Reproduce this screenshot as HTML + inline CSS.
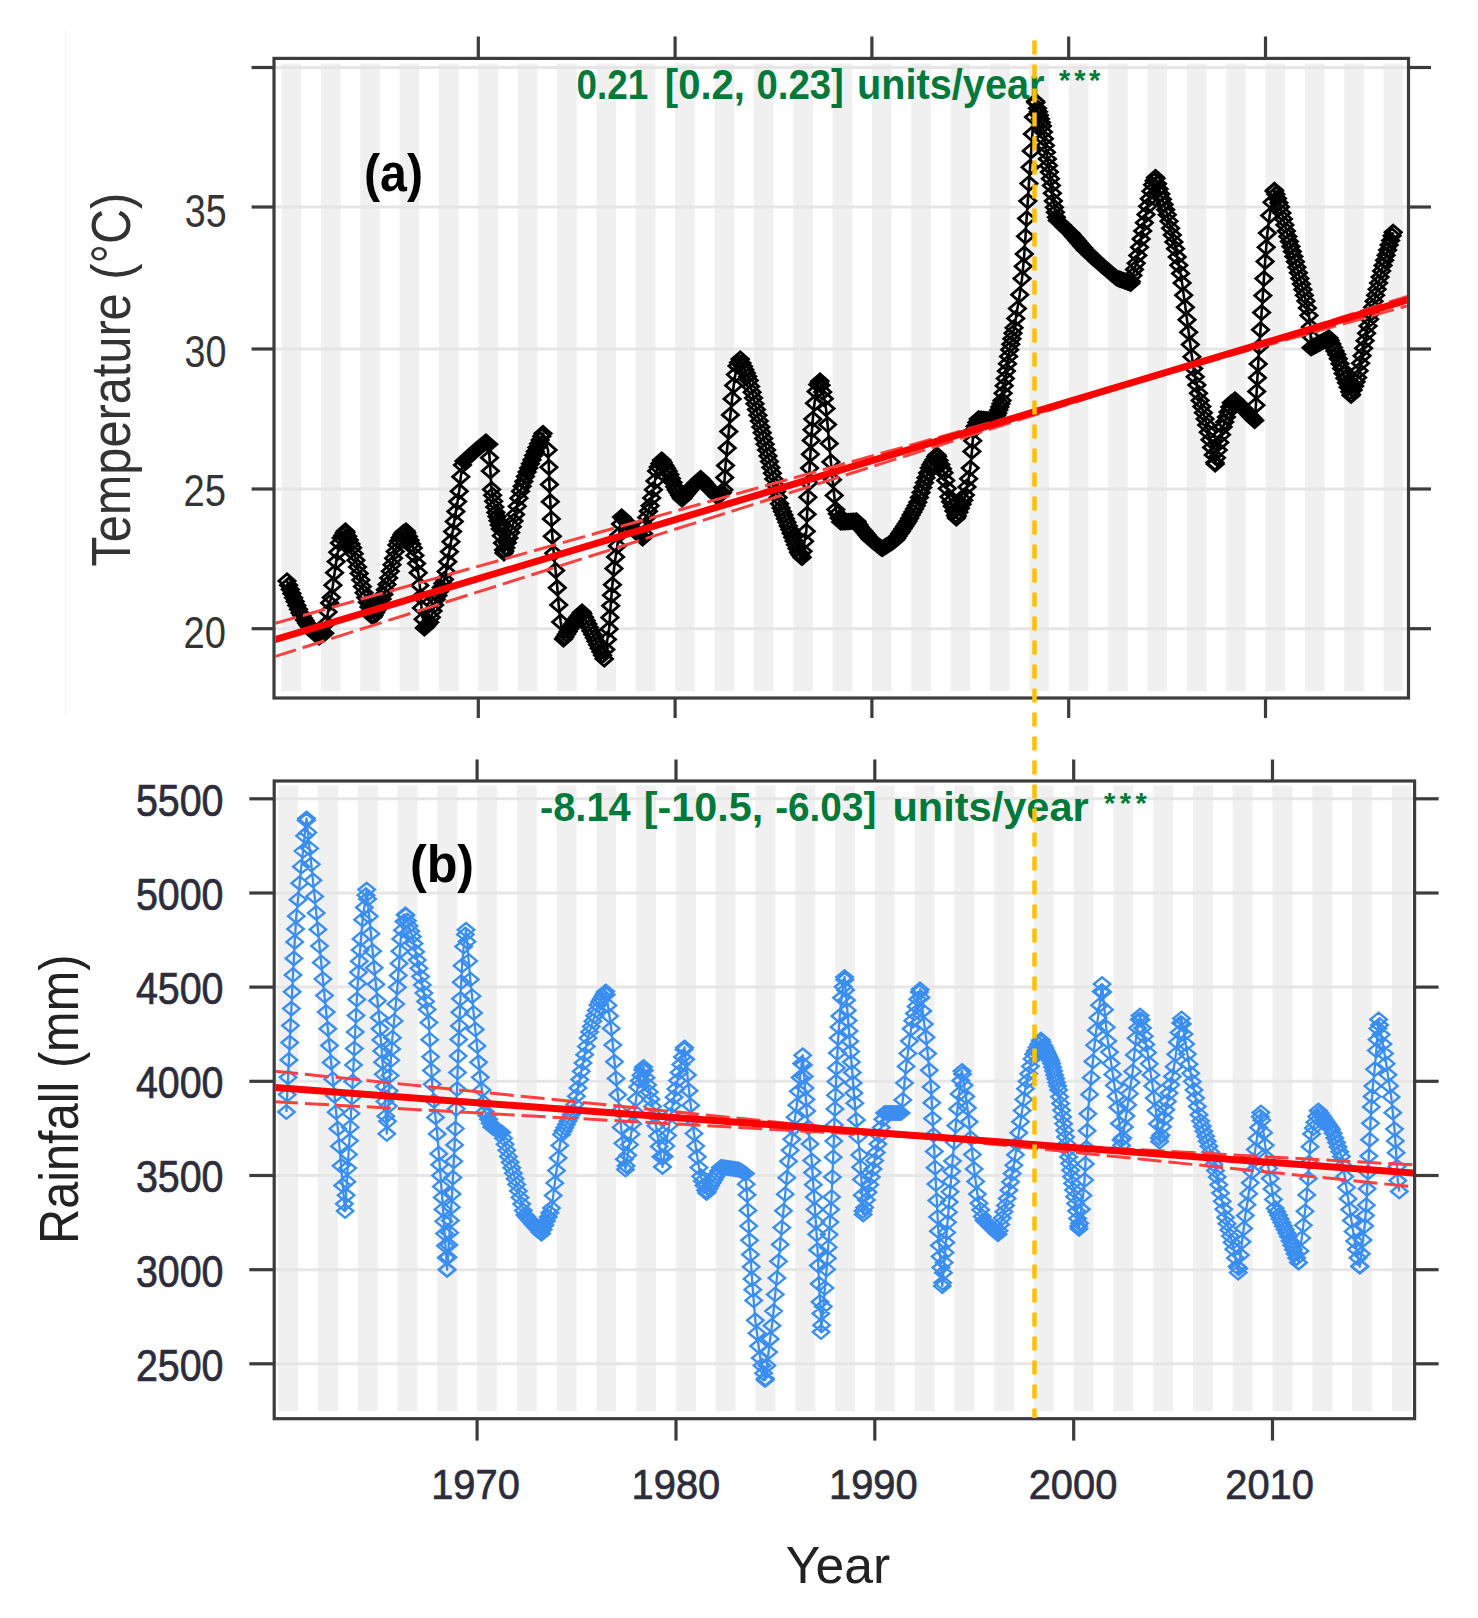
<!DOCTYPE html><html><head><meta charset="utf-8"><style>html,body{margin:0;padding:0;background:#fff;}svg{display:block}text{font-family:"Liberation Sans",sans-serif}</style></head><body><svg width="1478" height="1618" viewBox="0 0 1478 1618"><rect width="1478" height="1618" fill="#ffffff"/><line x1="65.5" y1="30" x2="65.5" y2="715" stroke="#f6f6f6" stroke-width="1.5"/><defs><clipPath id="ct"><rect x="275.6" y="60" width="1131.3" height="636.4"/></clipPath><clipPath id="cb"><rect x="275.8" y="782.6" width="1137.2" height="634.5"/></clipPath></defs><rect x="274" y="58.4" width="1134.5" height="639.6" fill="#ffffff"/><rect x="281.5" y="63.5" width="19.7" height="627.5" fill="#f0f0f0"/><rect x="320.9" y="63.5" width="19.7" height="627.5" fill="#f0f0f0"/><rect x="360.2" y="63.5" width="19.7" height="627.5" fill="#f0f0f0"/><rect x="399.6" y="63.5" width="19.7" height="627.5" fill="#f0f0f0"/><rect x="438.9" y="63.5" width="19.7" height="627.5" fill="#f0f0f0"/><rect x="478.3" y="63.5" width="19.7" height="627.5" fill="#f0f0f0"/><rect x="517.7" y="63.5" width="19.7" height="627.5" fill="#f0f0f0"/><rect x="557" y="63.5" width="19.7" height="627.5" fill="#f0f0f0"/><rect x="596.4" y="63.5" width="19.7" height="627.5" fill="#f0f0f0"/><rect x="635.7" y="63.5" width="19.7" height="627.5" fill="#f0f0f0"/><rect x="675.1" y="63.5" width="19.7" height="627.5" fill="#f0f0f0"/><rect x="714.5" y="63.5" width="19.7" height="627.5" fill="#f0f0f0"/><rect x="753.8" y="63.5" width="19.7" height="627.5" fill="#f0f0f0"/><rect x="793.2" y="63.5" width="19.7" height="627.5" fill="#f0f0f0"/><rect x="832.5" y="63.5" width="19.7" height="627.5" fill="#f0f0f0"/><rect x="871.9" y="63.5" width="19.7" height="627.5" fill="#f0f0f0"/><rect x="911.3" y="63.5" width="19.7" height="627.5" fill="#f0f0f0"/><rect x="950.6" y="63.5" width="19.7" height="627.5" fill="#f0f0f0"/><rect x="990" y="63.5" width="19.7" height="627.5" fill="#f0f0f0"/><rect x="1029.3" y="63.5" width="19.7" height="627.5" fill="#f0f0f0"/><rect x="1068.7" y="63.5" width="19.7" height="627.5" fill="#f0f0f0"/><rect x="1108.1" y="63.5" width="19.7" height="627.5" fill="#f0f0f0"/><rect x="1147.4" y="63.5" width="19.7" height="627.5" fill="#f0f0f0"/><rect x="1186.8" y="63.5" width="19.7" height="627.5" fill="#f0f0f0"/><rect x="1226.1" y="63.5" width="19.7" height="627.5" fill="#f0f0f0"/><rect x="1265.5" y="63.5" width="19.7" height="627.5" fill="#f0f0f0"/><rect x="1304.9" y="63.5" width="19.7" height="627.5" fill="#f0f0f0"/><rect x="1344.2" y="63.5" width="19.7" height="627.5" fill="#f0f0f0"/><rect x="1383.6" y="63.5" width="19.7" height="627.5" fill="#f0f0f0"/><line x1="274" y1="67.5" x2="1408.5" y2="67.5" stroke="#e6e6e6" stroke-width="3"/><line x1="274" y1="207" x2="1408.5" y2="207" stroke="#e6e6e6" stroke-width="3"/><line x1="274" y1="349" x2="1408.5" y2="349" stroke="#e6e6e6" stroke-width="3"/><line x1="274" y1="489" x2="1408.5" y2="489" stroke="#e6e6e6" stroke-width="3"/><line x1="274" y1="628.7" x2="1408.5" y2="628.7" stroke="#e6e6e6" stroke-width="3"/><rect x="274.2" y="781" width="1140.4" height="637.7" fill="#ffffff"/><rect x="278.2" y="785.5" width="19.9" height="625.5" fill="#f0f0f0"/><rect x="318" y="785.5" width="19.9" height="625.5" fill="#f0f0f0"/><rect x="357.8" y="785.5" width="19.9" height="625.5" fill="#f0f0f0"/><rect x="397.6" y="785.5" width="19.9" height="625.5" fill="#f0f0f0"/><rect x="437.3" y="785.5" width="19.9" height="625.5" fill="#f0f0f0"/><rect x="477.1" y="785.5" width="19.9" height="625.5" fill="#f0f0f0"/><rect x="516.9" y="785.5" width="19.9" height="625.5" fill="#f0f0f0"/><rect x="556.6" y="785.5" width="19.9" height="625.5" fill="#f0f0f0"/><rect x="596.4" y="785.5" width="19.9" height="625.5" fill="#f0f0f0"/><rect x="636.2" y="785.5" width="19.9" height="625.5" fill="#f0f0f0"/><rect x="676" y="785.5" width="19.9" height="625.5" fill="#f0f0f0"/><rect x="715.7" y="785.5" width="19.9" height="625.5" fill="#f0f0f0"/><rect x="755.5" y="785.5" width="19.9" height="625.5" fill="#f0f0f0"/><rect x="795.3" y="785.5" width="19.9" height="625.5" fill="#f0f0f0"/><rect x="835" y="785.5" width="19.9" height="625.5" fill="#f0f0f0"/><rect x="874.8" y="785.5" width="19.9" height="625.5" fill="#f0f0f0"/><rect x="914.6" y="785.5" width="19.9" height="625.5" fill="#f0f0f0"/><rect x="954.3" y="785.5" width="19.9" height="625.5" fill="#f0f0f0"/><rect x="994.1" y="785.5" width="19.9" height="625.5" fill="#f0f0f0"/><rect x="1033.9" y="785.5" width="19.9" height="625.5" fill="#f0f0f0"/><rect x="1073.7" y="785.5" width="19.9" height="625.5" fill="#f0f0f0"/><rect x="1113.4" y="785.5" width="19.9" height="625.5" fill="#f0f0f0"/><rect x="1153.2" y="785.5" width="19.9" height="625.5" fill="#f0f0f0"/><rect x="1193" y="785.5" width="19.9" height="625.5" fill="#f0f0f0"/><rect x="1232.7" y="785.5" width="19.9" height="625.5" fill="#f0f0f0"/><rect x="1272.5" y="785.5" width="19.9" height="625.5" fill="#f0f0f0"/><rect x="1312.3" y="785.5" width="19.9" height="625.5" fill="#f0f0f0"/><rect x="1352" y="785.5" width="19.9" height="625.5" fill="#f0f0f0"/><rect x="1391.8" y="785.5" width="19.9" height="625.5" fill="#f0f0f0"/><line x1="274.2" y1="798.8" x2="1414.6" y2="798.8" stroke="#e6e6e6" stroke-width="3"/><line x1="274.2" y1="893" x2="1414.6" y2="893" stroke="#e6e6e6" stroke-width="3"/><line x1="274.2" y1="987.1" x2="1414.6" y2="987.1" stroke="#e6e6e6" stroke-width="3"/><line x1="274.2" y1="1081.3" x2="1414.6" y2="1081.3" stroke="#e6e6e6" stroke-width="3"/><line x1="274.2" y1="1175.5" x2="1414.6" y2="1175.5" stroke="#e6e6e6" stroke-width="3"/><line x1="274.2" y1="1269.7" x2="1414.6" y2="1269.7" stroke="#e6e6e6" stroke-width="3"/><line x1="274.2" y1="1363.8" x2="1414.6" y2="1363.8" stroke="#e6e6e6" stroke-width="3"/><g clip-path="url(#ct)"><path d="M287.0 573.9l8.1 7.1l-8.1 7.1l-8.1 -7.1zM287.0 573.9l8.1 7.1l-8.1 7.1l-8.1 -7.1zM288.6 578.1l8.1 7.1l-8.1 7.1l-8.1 -7.1zM290.3 582.3l8.1 7.1l-8.1 7.1l-8.1 -7.1zM291.9 586.5l8.1 7.1l-8.1 7.1l-8.1 -7.1zM293.6 590.7l8.1 7.1l-8.1 7.1l-8.1 -7.1zM295.2 594.5l8.1 7.1l-8.1 7.1l-8.1 -7.1zM296.8 598.3l8.1 7.1l-8.1 7.1l-8.1 -7.1zM298.5 602.2l8.1 7.1l-8.1 7.1l-8.1 -7.1zM300.1 605.8l8.1 7.1l-8.1 7.1l-8.1 -7.1zM301.8 608.4l8.1 7.1l-8.1 7.1l-8.1 -7.1zM303.4 611.0l8.1 7.1l-8.1 7.1l-8.1 -7.1zM305.0 613.5l8.1 7.1l-8.1 7.1l-8.1 -7.1zM306.7 616.1l8.1 7.1l-8.1 7.1l-8.1 -7.1zM308.3 618.4l8.1 7.1l-8.1 7.1l-8.1 -7.1zM310.0 620.5l8.1 7.1l-8.1 7.1l-8.1 -7.1zM311.6 622.6l8.1 7.1l-8.1 7.1l-8.1 -7.1zM313.2 624.7l8.1 7.1l-8.1 7.1l-8.1 -7.1zM314.9 626.7l8.1 7.1l-8.1 7.1l-8.1 -7.1zM316.5 628.0l8.1 7.1l-8.1 7.1l-8.1 -7.1zM318.2 629.3l8.1 7.1l-8.1 7.1l-8.1 -7.1zM319.0 629.9l8.1 7.1l-8.1 7.1l-8.1 -7.1zM319.8 629.4l8.1 7.1l-8.1 7.1l-8.1 -7.1zM321.4 628.3l8.1 7.1l-8.1 7.1l-8.1 -7.1zM323.1 627.2l8.1 7.1l-8.1 7.1l-8.1 -7.1zM324.7 626.1l8.1 7.1l-8.1 7.1l-8.1 -7.1zM326.4 616.4l8.1 7.1l-8.1 7.1l-8.1 -7.1zM328.0 604.9l8.1 7.1l-8.1 7.1l-8.1 -7.1zM329.6 595.8l8.1 7.1l-8.1 7.1l-8.1 -7.1zM331.3 590.4l8.1 7.1l-8.1 7.1l-8.1 -7.1zM332.9 578.1l8.1 7.1l-8.1 7.1l-8.1 -7.1zM334.6 565.7l8.1 7.1l-8.1 7.1l-8.1 -7.1zM336.2 554.5l8.1 7.1l-8.1 7.1l-8.1 -7.1zM337.8 545.2l8.1 7.1l-8.1 7.1l-8.1 -7.1zM339.5 535.9l8.1 7.1l-8.1 7.1l-8.1 -7.1zM341.1 531.0l8.1 7.1l-8.1 7.1l-8.1 -7.1zM342.8 528.3l8.1 7.1l-8.1 7.1l-8.1 -7.1zM344.4 525.6l8.1 7.1l-8.1 7.1l-8.1 -7.1zM345.4 523.9l8.1 7.1l-8.1 7.1l-8.1 -7.1zM346.0 525.4l8.1 7.1l-8.1 7.1l-8.1 -7.1zM347.7 529.2l8.1 7.1l-8.1 7.1l-8.1 -7.1zM349.3 533.0l8.1 7.1l-8.1 7.1l-8.1 -7.1zM351.0 536.8l8.1 7.1l-8.1 7.1l-8.1 -7.1zM352.6 540.7l8.1 7.1l-8.1 7.1l-8.1 -7.1zM354.2 546.6l8.1 7.1l-8.1 7.1l-8.1 -7.1zM355.9 553.2l8.1 7.1l-8.1 7.1l-8.1 -7.1zM357.5 559.8l8.1 7.1l-8.1 7.1l-8.1 -7.1zM359.2 566.3l8.1 7.1l-8.1 7.1l-8.1 -7.1zM360.8 572.9l8.1 7.1l-8.1 7.1l-8.1 -7.1zM362.4 579.5l8.1 7.1l-8.1 7.1l-8.1 -7.1zM364.1 585.7l8.1 7.1l-8.1 7.1l-8.1 -7.1zM365.7 590.4l8.1 7.1l-8.1 7.1l-8.1 -7.1zM367.4 595.2l8.1 7.1l-8.1 7.1l-8.1 -7.1zM369.0 599.9l8.1 7.1l-8.1 7.1l-8.1 -7.1zM370.6 604.0l8.1 7.1l-8.1 7.1l-8.1 -7.1zM372.3 608.1l8.1 7.1l-8.1 7.1l-8.1 -7.1zM373.0 609.9l8.1 7.1l-8.1 7.1l-8.1 -7.1zM373.9 608.3l8.1 7.1l-8.1 7.1l-8.1 -7.1zM375.6 605.5l8.1 7.1l-8.1 7.1l-8.1 -7.1zM377.2 602.7l8.1 7.1l-8.1 7.1l-8.1 -7.1zM378.8 599.9l8.1 7.1l-8.1 7.1l-8.1 -7.1zM380.5 596.5l8.1 7.1l-8.1 7.1l-8.1 -7.1zM382.1 591.9l8.1 7.1l-8.1 7.1l-8.1 -7.1zM383.8 587.3l8.1 7.1l-8.1 7.1l-8.1 -7.1zM385.4 582.6l8.1 7.1l-8.1 7.1l-8.1 -7.1zM387.0 577.3l8.1 7.1l-8.1 7.1l-8.1 -7.1zM388.7 570.8l8.1 7.1l-8.1 7.1l-8.1 -7.1zM390.3 564.2l8.1 7.1l-8.1 7.1l-8.1 -7.1zM392.0 557.7l8.1 7.1l-8.1 7.1l-8.1 -7.1zM393.6 551.1l8.1 7.1l-8.1 7.1l-8.1 -7.1zM395.2 544.5l8.1 7.1l-8.1 7.1l-8.1 -7.1zM396.9 537.9l8.1 7.1l-8.1 7.1l-8.1 -7.1zM398.5 533.9l8.1 7.1l-8.1 7.1l-8.1 -7.1zM400.2 530.7l8.1 7.1l-8.1 7.1l-8.1 -7.1zM401.8 527.6l8.1 7.1l-8.1 7.1l-8.1 -7.1zM403.4 525.5l8.1 7.1l-8.1 7.1l-8.1 -7.1zM405.1 524.5l8.1 7.1l-8.1 7.1l-8.1 -7.1zM406.0 523.9l8.1 7.1l-8.1 7.1l-8.1 -7.1zM406.7 525.6l8.1 7.1l-8.1 7.1l-8.1 -7.1zM408.4 529.4l8.1 7.1l-8.1 7.1l-8.1 -7.1zM410.0 533.2l8.1 7.1l-8.1 7.1l-8.1 -7.1zM411.6 537.0l8.1 7.1l-8.1 7.1l-8.1 -7.1zM413.3 540.9l8.1 7.1l-8.1 7.1l-8.1 -7.1zM414.9 548.3l8.1 7.1l-8.1 7.1l-8.1 -7.1zM416.6 556.5l8.1 7.1l-8.1 7.1l-8.1 -7.1zM418.2 565.6l8.1 7.1l-8.1 7.1l-8.1 -7.1zM419.8 578.3l8.1 7.1l-8.1 7.1l-8.1 -7.1zM420.7 589.6l8.1 7.1l-8.1 7.1l-8.1 -7.1zM421.5 600.9l8.1 7.1l-8.1 7.1l-8.1 -7.1zM423.1 612.2l8.1 7.1l-8.1 7.1l-8.1 -7.1zM424.4 620.9l8.1 7.1l-8.1 7.1l-8.1 -7.1zM424.8 620.5l8.1 7.1l-8.1 7.1l-8.1 -7.1zM426.4 618.8l8.1 7.1l-8.1 7.1l-8.1 -7.1zM428.0 617.0l8.1 7.1l-8.1 7.1l-8.1 -7.1zM429.7 615.2l8.1 7.1l-8.1 7.1l-8.1 -7.1zM431.3 610.1l8.1 7.1l-8.1 7.1l-8.1 -7.1zM433.0 604.0l8.1 7.1l-8.1 7.1l-8.1 -7.1zM434.6 598.0l8.1 7.1l-8.1 7.1l-8.1 -7.1zM436.2 592.3l8.1 7.1l-8.1 7.1l-8.1 -7.1zM437.9 588.3l8.1 7.1l-8.1 7.1l-8.1 -7.1zM439.5 584.3l8.1 7.1l-8.1 7.1l-8.1 -7.1zM441.2 580.3l8.1 7.1l-8.1 7.1l-8.1 -7.1zM442.8 576.3l8.1 7.1l-8.1 7.1l-8.1 -7.1zM444.4 572.3l8.1 7.1l-8.1 7.1l-8.1 -7.1zM446.1 564.4l8.1 7.1l-8.1 7.1l-8.1 -7.1zM447.7 554.6l8.1 7.1l-8.1 7.1l-8.1 -7.1zM449.4 544.7l8.1 7.1l-8.1 7.1l-8.1 -7.1zM451.0 534.7l8.1 7.1l-8.1 7.1l-8.1 -7.1zM452.6 524.5l8.1 7.1l-8.1 7.1l-8.1 -7.1zM454.3 514.4l8.1 7.1l-8.1 7.1l-8.1 -7.1zM455.9 504.4l8.1 7.1l-8.1 7.1l-8.1 -7.1zM457.6 494.5l8.1 7.1l-8.1 7.1l-8.1 -7.1zM459.2 484.1l8.1 7.1l-8.1 7.1l-8.1 -7.1zM460.8 469.7l8.1 7.1l-8.1 7.1l-8.1 -7.1zM462.5 458.0l8.1 7.1l-8.1 7.1l-8.1 -7.1zM464.1 453.9l8.1 7.1l-8.1 7.1l-8.1 -7.1zM465.8 452.4l8.1 7.1l-8.1 7.1l-8.1 -7.1zM467.4 450.9l8.1 7.1l-8.1 7.1l-8.1 -7.1zM469.0 449.4l8.1 7.1l-8.1 7.1l-8.1 -7.1zM470.7 447.9l8.1 7.1l-8.1 7.1l-8.1 -7.1zM472.3 446.4l8.1 7.1l-8.1 7.1l-8.1 -7.1zM474.0 444.9l8.1 7.1l-8.1 7.1l-8.1 -7.1zM475.6 443.4l8.1 7.1l-8.1 7.1l-8.1 -7.1zM477.2 442.1l8.1 7.1l-8.1 7.1l-8.1 -7.1zM478.9 440.7l8.1 7.1l-8.1 7.1l-8.1 -7.1zM480.5 439.4l8.1 7.1l-8.1 7.1l-8.1 -7.1zM482.2 438.0l8.1 7.1l-8.1 7.1l-8.1 -7.1zM483.8 436.7l8.1 7.1l-8.1 7.1l-8.1 -7.1zM485.4 435.4l8.1 7.1l-8.1 7.1l-8.1 -7.1zM486.0 434.9l8.1 7.1l-8.1 7.1l-8.1 -7.1zM487.1 435.8l8.1 7.1l-8.1 7.1l-8.1 -7.1zM488.7 437.2l8.1 7.1l-8.1 7.1l-8.1 -7.1zM489.5 450.6l8.1 7.1l-8.1 7.1l-8.1 -7.1zM490.4 463.9l8.1 7.1l-8.1 7.1l-8.1 -7.1zM491.5 482.4l8.1 7.1l-8.1 7.1l-8.1 -7.1zM492.6 488.2l8.1 7.1l-8.1 7.1l-8.1 -7.1zM493.7 494.1l8.1 7.1l-8.1 7.1l-8.1 -7.1zM494.8 500.0l8.1 7.1l-8.1 7.1l-8.1 -7.1zM495.9 505.3l8.1 7.1l-8.1 7.1l-8.1 -7.1zM497.0 509.4l8.1 7.1l-8.1 7.1l-8.1 -7.1zM498.1 513.6l8.1 7.1l-8.1 7.1l-8.1 -7.1zM499.2 517.8l8.1 7.1l-8.1 7.1l-8.1 -7.1zM500.3 522.0l8.1 7.1l-8.1 7.1l-8.1 -7.1zM501.4 528.7l8.1 7.1l-8.1 7.1l-8.1 -7.1zM502.5 535.9l8.1 7.1l-8.1 7.1l-8.1 -7.1zM503.6 543.0l8.1 7.1l-8.1 7.1l-8.1 -7.1zM504.0 545.9l8.1 7.1l-8.1 7.1l-8.1 -7.1zM504.7 543.9l8.1 7.1l-8.1 7.1l-8.1 -7.1zM505.8 540.6l8.1 7.1l-8.1 7.1l-8.1 -7.1zM507.4 535.7l8.1 7.1l-8.1 7.1l-8.1 -7.1zM509.0 530.8l8.1 7.1l-8.1 7.1l-8.1 -7.1zM510.7 525.5l8.1 7.1l-8.1 7.1l-8.1 -7.1zM512.3 519.7l8.1 7.1l-8.1 7.1l-8.1 -7.1zM514.0 514.0l8.1 7.1l-8.1 7.1l-8.1 -7.1zM515.6 507.3l8.1 7.1l-8.1 7.1l-8.1 -7.1zM517.2 499.2l8.1 7.1l-8.1 7.1l-8.1 -7.1zM518.9 491.1l8.1 7.1l-8.1 7.1l-8.1 -7.1zM520.5 484.1l8.1 7.1l-8.1 7.1l-8.1 -7.1zM522.2 479.2l8.1 7.1l-8.1 7.1l-8.1 -7.1zM523.8 474.3l8.1 7.1l-8.1 7.1l-8.1 -7.1zM525.4 469.4l8.1 7.1l-8.1 7.1l-8.1 -7.1zM527.1 465.0l8.1 7.1l-8.1 7.1l-8.1 -7.1zM528.7 460.9l8.1 7.1l-8.1 7.1l-8.1 -7.1zM530.4 456.7l8.1 7.1l-8.1 7.1l-8.1 -7.1zM532.0 452.6l8.1 7.1l-8.1 7.1l-8.1 -7.1zM533.6 448.5l8.1 7.1l-8.1 7.1l-8.1 -7.1zM535.3 444.4l8.1 7.1l-8.1 7.1l-8.1 -7.1zM536.9 440.5l8.1 7.1l-8.1 7.1l-8.1 -7.1zM538.6 436.7l8.1 7.1l-8.1 7.1l-8.1 -7.1zM540.2 432.9l8.1 7.1l-8.1 7.1l-8.1 -7.1zM541.8 429.1l8.1 7.1l-8.1 7.1l-8.1 -7.1zM543.0 426.4l8.1 7.1l-8.1 7.1l-8.1 -7.1zM543.0 426.4l8.1 7.1l-8.1 7.1l-8.1 -7.1zM548.0 442.9l8.1 7.1l-8.1 7.1l-8.1 -7.1zM548.9 460.1l8.1 7.1l-8.1 7.1l-8.1 -7.1zM549.4 477.4l8.1 7.1l-8.1 7.1l-8.1 -7.1zM550.3 494.6l8.1 7.1l-8.1 7.1l-8.1 -7.1zM551.3 511.8l8.1 7.1l-8.1 7.1l-8.1 -7.1zM552.3 529.1l8.1 7.1l-8.1 7.1l-8.1 -7.1zM553.8 546.2l8.1 7.1l-8.1 7.1l-8.1 -7.1zM555.6 563.4l8.1 7.1l-8.1 7.1l-8.1 -7.1zM557.3 580.6l8.1 7.1l-8.1 7.1l-8.1 -7.1zM558.7 597.8l8.1 7.1l-8.1 7.1l-8.1 -7.1zM560.7 614.9l8.1 7.1l-8.1 7.1l-8.1 -7.1zM563.5 631.9l8.1 7.1l-8.1 7.1l-8.1 -7.1zM563.5 631.9l8.1 7.1l-8.1 7.1l-8.1 -7.1zM564.8 629.8l8.1 7.1l-8.1 7.1l-8.1 -7.1zM566.4 627.1l8.1 7.1l-8.1 7.1l-8.1 -7.1zM568.1 624.4l8.1 7.1l-8.1 7.1l-8.1 -7.1zM569.7 621.7l8.1 7.1l-8.1 7.1l-8.1 -7.1zM571.4 619.0l8.1 7.1l-8.1 7.1l-8.1 -7.1zM573.0 616.6l8.1 7.1l-8.1 7.1l-8.1 -7.1zM574.6 614.5l8.1 7.1l-8.1 7.1l-8.1 -7.1zM576.3 612.3l8.1 7.1l-8.1 7.1l-8.1 -7.1zM577.9 610.2l8.1 7.1l-8.1 7.1l-8.1 -7.1zM579.6 608.1l8.1 7.1l-8.1 7.1l-8.1 -7.1zM581.2 605.9l8.1 7.1l-8.1 7.1l-8.1 -7.1zM582.0 604.9l8.1 7.1l-8.1 7.1l-8.1 -7.1zM582.8 606.7l8.1 7.1l-8.1 7.1l-8.1 -7.1zM584.5 610.1l8.1 7.1l-8.1 7.1l-8.1 -7.1zM586.1 613.5l8.1 7.1l-8.1 7.1l-8.1 -7.1zM587.8 616.9l8.1 7.1l-8.1 7.1l-8.1 -7.1zM589.4 620.4l8.1 7.1l-8.1 7.1l-8.1 -7.1zM591.0 623.8l8.1 7.1l-8.1 7.1l-8.1 -7.1zM592.7 627.2l8.1 7.1l-8.1 7.1l-8.1 -7.1zM594.3 630.7l8.1 7.1l-8.1 7.1l-8.1 -7.1zM596.0 634.2l8.1 7.1l-8.1 7.1l-8.1 -7.1zM597.6 637.7l8.1 7.1l-8.1 7.1l-8.1 -7.1zM599.2 641.2l8.1 7.1l-8.1 7.1l-8.1 -7.1zM600.9 644.6l8.1 7.1l-8.1 7.1l-8.1 -7.1zM602.5 648.1l8.1 7.1l-8.1 7.1l-8.1 -7.1zM604.2 651.6l8.1 7.1l-8.1 7.1l-8.1 -7.1zM604.3 651.9l8.1 7.1l-8.1 7.1l-8.1 -7.1zM605.8 642.5l8.1 7.1l-8.1 7.1l-8.1 -7.1zM607.4 632.3l8.1 7.1l-8.1 7.1l-8.1 -7.1zM609.1 622.0l8.1 7.1l-8.1 7.1l-8.1 -7.1zM609.9 610.4l8.1 7.1l-8.1 7.1l-8.1 -7.1zM610.7 598.7l8.1 7.1l-8.1 7.1l-8.1 -7.1zM611.5 588.2l8.1 7.1l-8.1 7.1l-8.1 -7.1zM612.4 577.7l8.1 7.1l-8.1 7.1l-8.1 -7.1zM614.0 561.4l8.1 7.1l-8.1 7.1l-8.1 -7.1zM615.6 549.8l8.1 7.1l-8.1 7.1l-8.1 -7.1zM617.3 538.8l8.1 7.1l-8.1 7.1l-8.1 -7.1zM618.9 527.9l8.1 7.1l-8.1 7.1l-8.1 -7.1zM620.6 516.9l8.1 7.1l-8.1 7.1l-8.1 -7.1zM621.6 509.9l8.1 7.1l-8.1 7.1l-8.1 -7.1zM622.2 510.5l8.1 7.1l-8.1 7.1l-8.1 -7.1zM623.8 512.3l8.1 7.1l-8.1 7.1l-8.1 -7.1zM625.5 514.0l8.1 7.1l-8.1 7.1l-8.1 -7.1zM627.1 515.7l8.1 7.1l-8.1 7.1l-8.1 -7.1zM628.8 517.5l8.1 7.1l-8.1 7.1l-8.1 -7.1zM630.4 519.2l8.1 7.1l-8.1 7.1l-8.1 -7.1zM632.0 520.9l8.1 7.1l-8.1 7.1l-8.1 -7.1zM633.7 522.5l8.1 7.1l-8.1 7.1l-8.1 -7.1zM635.3 524.0l8.1 7.1l-8.1 7.1l-8.1 -7.1zM637.0 525.6l8.1 7.1l-8.1 7.1l-8.1 -7.1zM638.6 527.1l8.1 7.1l-8.1 7.1l-8.1 -7.1zM640.2 528.7l8.1 7.1l-8.1 7.1l-8.1 -7.1zM641.9 530.2l8.1 7.1l-8.1 7.1l-8.1 -7.1zM642.6 530.9l8.1 7.1l-8.1 7.1l-8.1 -7.1zM643.5 526.4l8.1 7.1l-8.1 7.1l-8.1 -7.1zM645.2 518.4l8.1 7.1l-8.1 7.1l-8.1 -7.1zM646.8 510.3l8.1 7.1l-8.1 7.1l-8.1 -7.1zM648.4 504.1l8.1 7.1l-8.1 7.1l-8.1 -7.1zM650.1 498.6l8.1 7.1l-8.1 7.1l-8.1 -7.1zM651.7 490.8l8.1 7.1l-8.1 7.1l-8.1 -7.1zM653.4 482.7l8.1 7.1l-8.1 7.1l-8.1 -7.1zM655.0 473.9l8.1 7.1l-8.1 7.1l-8.1 -7.1zM656.6 463.9l8.1 7.1l-8.1 7.1l-8.1 -7.1zM658.3 459.9l8.1 7.1l-8.1 7.1l-8.1 -7.1zM659.9 456.5l8.1 7.1l-8.1 7.1l-8.1 -7.1zM661.6 453.2l8.1 7.1l-8.1 7.1l-8.1 -7.1zM661.7 452.9l8.1 7.1l-8.1 7.1l-8.1 -7.1zM663.2 455.5l8.1 7.1l-8.1 7.1l-8.1 -7.1zM664.8 458.3l8.1 7.1l-8.1 7.1l-8.1 -7.1zM666.5 461.1l8.1 7.1l-8.1 7.1l-8.1 -7.1zM668.1 463.9l8.1 7.1l-8.1 7.1l-8.1 -7.1zM669.8 467.3l8.1 7.1l-8.1 7.1l-8.1 -7.1zM671.4 471.4l8.1 7.1l-8.1 7.1l-8.1 -7.1zM673.0 475.5l8.1 7.1l-8.1 7.1l-8.1 -7.1zM674.7 479.6l8.1 7.1l-8.1 7.1l-8.1 -7.1zM676.3 482.9l8.1 7.1l-8.1 7.1l-8.1 -7.1zM678.0 485.5l8.1 7.1l-8.1 7.1l-8.1 -7.1zM679.6 488.1l8.1 7.1l-8.1 7.1l-8.1 -7.1zM681.2 490.7l8.1 7.1l-8.1 7.1l-8.1 -7.1zM682.0 491.9l8.1 7.1l-8.1 7.1l-8.1 -7.1zM682.9 490.8l8.1 7.1l-8.1 7.1l-8.1 -7.1zM684.5 488.8l8.1 7.1l-8.1 7.1l-8.1 -7.1zM686.2 486.8l8.1 7.1l-8.1 7.1l-8.1 -7.1zM687.8 484.8l8.1 7.1l-8.1 7.1l-8.1 -7.1zM689.4 482.8l8.1 7.1l-8.1 7.1l-8.1 -7.1zM691.1 480.8l8.1 7.1l-8.1 7.1l-8.1 -7.1zM692.7 479.2l8.1 7.1l-8.1 7.1l-8.1 -7.1zM694.4 477.6l8.1 7.1l-8.1 7.1l-8.1 -7.1zM696.0 476.0l8.1 7.1l-8.1 7.1l-8.1 -7.1zM697.6 474.3l8.1 7.1l-8.1 7.1l-8.1 -7.1zM699.3 472.7l8.1 7.1l-8.1 7.1l-8.1 -7.1zM700.6 471.4l8.1 7.1l-8.1 7.1l-8.1 -7.1zM700.9 471.8l8.1 7.1l-8.1 7.1l-8.1 -7.1zM702.6 473.6l8.1 7.1l-8.1 7.1l-8.1 -7.1zM704.2 475.5l8.1 7.1l-8.1 7.1l-8.1 -7.1zM705.8 477.4l8.1 7.1l-8.1 7.1l-8.1 -7.1zM707.5 479.3l8.1 7.1l-8.1 7.1l-8.1 -7.1zM709.1 481.2l8.1 7.1l-8.1 7.1l-8.1 -7.1zM710.8 482.9l8.1 7.1l-8.1 7.1l-8.1 -7.1zM712.4 484.5l8.1 7.1l-8.1 7.1l-8.1 -7.1zM714.0 486.2l8.1 7.1l-8.1 7.1l-8.1 -7.1zM715.7 487.9l8.1 7.1l-8.1 7.1l-8.1 -7.1zM717.3 489.5l8.1 7.1l-8.1 7.1l-8.1 -7.1zM717.7 489.9l8.1 7.1l-8.1 7.1l-8.1 -7.1zM719.0 488.7l8.1 7.1l-8.1 7.1l-8.1 -7.1zM720.6 487.2l8.1 7.1l-8.1 7.1l-8.1 -7.1zM722.2 485.6l8.1 7.1l-8.1 7.1l-8.1 -7.1zM723.9 482.6l8.1 7.1l-8.1 7.1l-8.1 -7.1zM724.7 470.5l8.1 7.1l-8.1 7.1l-8.1 -7.1zM725.5 458.5l8.1 7.1l-8.1 7.1l-8.1 -7.1zM727.2 441.0l8.1 7.1l-8.1 7.1l-8.1 -7.1zM728.8 424.4l8.1 7.1l-8.1 7.1l-8.1 -7.1zM730.4 407.8l8.1 7.1l-8.1 7.1l-8.1 -7.1zM732.1 391.8l8.1 7.1l-8.1 7.1l-8.1 -7.1zM733.7 378.4l8.1 7.1l-8.1 7.1l-8.1 -7.1zM735.4 367.5l8.1 7.1l-8.1 7.1l-8.1 -7.1zM737.0 358.8l8.1 7.1l-8.1 7.1l-8.1 -7.1zM738.6 355.3l8.1 7.1l-8.1 7.1l-8.1 -7.1zM740.2 351.9l8.1 7.1l-8.1 7.1l-8.1 -7.1zM740.3 352.1l8.1 7.1l-8.1 7.1l-8.1 -7.1zM741.9 355.9l8.1 7.1l-8.1 7.1l-8.1 -7.1zM743.4 359.2l8.1 7.1l-8.1 7.1l-8.1 -7.1zM744.8 362.6l8.1 7.1l-8.1 7.1l-8.1 -7.1zM746.3 366.0l8.1 7.1l-8.1 7.1l-8.1 -7.1zM747.7 369.3l8.1 7.1l-8.1 7.1l-8.1 -7.1zM749.2 373.5l8.1 7.1l-8.1 7.1l-8.1 -7.1zM750.6 379.3l8.1 7.1l-8.1 7.1l-8.1 -7.1zM752.1 385.1l8.1 7.1l-8.1 7.1l-8.1 -7.1zM753.5 390.9l8.1 7.1l-8.1 7.1l-8.1 -7.1zM755.0 396.7l8.1 7.1l-8.1 7.1l-8.1 -7.1zM756.4 402.5l8.1 7.1l-8.1 7.1l-8.1 -7.1zM757.9 408.2l8.1 7.1l-8.1 7.1l-8.1 -7.1zM759.3 414.0l8.1 7.1l-8.1 7.1l-8.1 -7.1zM760.8 419.8l8.1 7.1l-8.1 7.1l-8.1 -7.1zM762.2 425.6l8.1 7.1l-8.1 7.1l-8.1 -7.1zM763.7 431.4l8.1 7.1l-8.1 7.1l-8.1 -7.1zM765.1 437.2l8.1 7.1l-8.1 7.1l-8.1 -7.1zM766.6 443.0l8.1 7.1l-8.1 7.1l-8.1 -7.1zM768.0 448.8l8.1 7.1l-8.1 7.1l-8.1 -7.1zM769.5 454.5l8.1 7.1l-8.1 7.1l-8.1 -7.1zM770.9 460.3l8.1 7.1l-8.1 7.1l-8.1 -7.1zM772.4 466.1l8.1 7.1l-8.1 7.1l-8.1 -7.1zM773.8 472.0l8.1 7.1l-8.1 7.1l-8.1 -7.1zM775.3 478.2l8.1 7.1l-8.1 7.1l-8.1 -7.1zM776.7 484.3l8.1 7.1l-8.1 7.1l-8.1 -7.1zM778.2 490.5l8.1 7.1l-8.1 7.1l-8.1 -7.1zM779.6 496.6l8.1 7.1l-8.1 7.1l-8.1 -7.1zM781.1 500.9l8.1 7.1l-8.1 7.1l-8.1 -7.1zM782.5 504.4l8.1 7.1l-8.1 7.1l-8.1 -7.1zM784.0 508.0l8.1 7.1l-8.1 7.1l-8.1 -7.1zM785.4 511.6l8.1 7.1l-8.1 7.1l-8.1 -7.1zM786.9 515.2l8.1 7.1l-8.1 7.1l-8.1 -7.1zM788.3 518.8l8.1 7.1l-8.1 7.1l-8.1 -7.1zM789.8 522.4l8.1 7.1l-8.1 7.1l-8.1 -7.1zM791.2 526.2l8.1 7.1l-8.1 7.1l-8.1 -7.1zM792.7 530.1l8.1 7.1l-8.1 7.1l-8.1 -7.1zM794.1 533.9l8.1 7.1l-8.1 7.1l-8.1 -7.1zM795.6 537.7l8.1 7.1l-8.1 7.1l-8.1 -7.1zM797.0 541.5l8.1 7.1l-8.1 7.1l-8.1 -7.1zM798.5 545.2l8.1 7.1l-8.1 7.1l-8.1 -7.1zM799.9 547.3l8.1 7.1l-8.1 7.1l-8.1 -7.1zM801.4 549.5l8.1 7.1l-8.1 7.1l-8.1 -7.1zM802.0 550.4l8.1 7.1l-8.1 7.1l-8.1 -7.1zM803.0 544.2l8.1 7.1l-8.1 7.1l-8.1 -7.1zM804.6 534.2l8.1 7.1l-8.1 7.1l-8.1 -7.1zM806.3 524.2l8.1 7.1l-8.1 7.1l-8.1 -7.1zM807.1 507.2l8.1 7.1l-8.1 7.1l-8.1 -7.1zM807.9 490.2l8.1 7.1l-8.1 7.1l-8.1 -7.1zM808.7 475.6l8.1 7.1l-8.1 7.1l-8.1 -7.1zM809.6 461.0l8.1 7.1l-8.1 7.1l-8.1 -7.1zM810.4 447.1l8.1 7.1l-8.1 7.1l-8.1 -7.1zM811.2 433.3l8.1 7.1l-8.1 7.1l-8.1 -7.1zM812.0 422.6l8.1 7.1l-8.1 7.1l-8.1 -7.1zM812.8 412.0l8.1 7.1l-8.1 7.1l-8.1 -7.1zM814.5 396.1l8.1 7.1l-8.1 7.1l-8.1 -7.1zM816.1 384.4l8.1 7.1l-8.1 7.1l-8.1 -7.1zM817.8 377.5l8.1 7.1l-8.1 7.1l-8.1 -7.1zM819.4 374.9l8.1 7.1l-8.1 7.1l-8.1 -7.1zM820.0 373.9l8.1 7.1l-8.1 7.1l-8.1 -7.1zM821.0 378.2l8.1 7.1l-8.1 7.1l-8.1 -7.1zM822.7 384.9l8.1 7.1l-8.1 7.1l-8.1 -7.1zM824.3 391.6l8.1 7.1l-8.1 7.1l-8.1 -7.1zM826.0 401.5l8.1 7.1l-8.1 7.1l-8.1 -7.1zM827.6 417.5l8.1 7.1l-8.1 7.1l-8.1 -7.1zM829.2 436.5l8.1 7.1l-8.1 7.1l-8.1 -7.1zM830.9 454.8l8.1 7.1l-8.1 7.1l-8.1 -7.1zM832.5 472.7l8.1 7.1l-8.1 7.1l-8.1 -7.1zM834.2 488.4l8.1 7.1l-8.1 7.1l-8.1 -7.1zM835.8 502.5l8.1 7.1l-8.1 7.1l-8.1 -7.1zM837.4 506.7l8.1 7.1l-8.1 7.1l-8.1 -7.1zM839.1 510.8l8.1 7.1l-8.1 7.1l-8.1 -7.1zM840.7 514.9l8.1 7.1l-8.1 7.1l-8.1 -7.1zM840.7 514.9l8.1 7.1l-8.1 7.1l-8.1 -7.1zM842.4 514.8l8.1 7.1l-8.1 7.1l-8.1 -7.1zM844.0 514.7l8.1 7.1l-8.1 7.1l-8.1 -7.1zM845.6 514.6l8.1 7.1l-8.1 7.1l-8.1 -7.1zM847.3 514.5l8.1 7.1l-8.1 7.1l-8.1 -7.1zM848.9 514.4l8.1 7.1l-8.1 7.1l-8.1 -7.1zM850.6 514.3l8.1 7.1l-8.1 7.1l-8.1 -7.1zM852.2 514.2l8.1 7.1l-8.1 7.1l-8.1 -7.1zM853.8 514.1l8.1 7.1l-8.1 7.1l-8.1 -7.1zM855.5 514.0l8.1 7.1l-8.1 7.1l-8.1 -7.1zM856.5 513.9l8.1 7.1l-8.1 7.1l-8.1 -7.1zM857.1 514.9l8.1 7.1l-8.1 7.1l-8.1 -7.1zM858.8 517.6l8.1 7.1l-8.1 7.1l-8.1 -7.1zM860.4 520.1l8.1 7.1l-8.1 7.1l-8.1 -7.1zM862.0 522.1l8.1 7.1l-8.1 7.1l-8.1 -7.1zM863.7 524.0l8.1 7.1l-8.1 7.1l-8.1 -7.1zM865.3 526.0l8.1 7.1l-8.1 7.1l-8.1 -7.1zM867.0 527.9l8.1 7.1l-8.1 7.1l-8.1 -7.1zM868.6 529.8l8.1 7.1l-8.1 7.1l-8.1 -7.1zM870.2 531.8l8.1 7.1l-8.1 7.1l-8.1 -7.1zM871.9 533.4l8.1 7.1l-8.1 7.1l-8.1 -7.1zM873.5 534.7l8.1 7.1l-8.1 7.1l-8.1 -7.1zM875.2 536.0l8.1 7.1l-8.1 7.1l-8.1 -7.1zM876.8 537.3l8.1 7.1l-8.1 7.1l-8.1 -7.1zM878.4 538.6l8.1 7.1l-8.1 7.1l-8.1 -7.1zM880.1 539.9l8.1 7.1l-8.1 7.1l-8.1 -7.1zM881.7 541.2l8.1 7.1l-8.1 7.1l-8.1 -7.1zM882.1 541.5l8.1 7.1l-8.1 7.1l-8.1 -7.1zM883.4 540.7l8.1 7.1l-8.1 7.1l-8.1 -7.1zM885.0 539.6l8.1 7.1l-8.1 7.1l-8.1 -7.1zM886.6 538.6l8.1 7.1l-8.1 7.1l-8.1 -7.1zM888.3 537.5l8.1 7.1l-8.1 7.1l-8.1 -7.1zM889.9 536.5l8.1 7.1l-8.1 7.1l-8.1 -7.1zM891.6 535.4l8.1 7.1l-8.1 7.1l-8.1 -7.1zM893.2 534.4l8.1 7.1l-8.1 7.1l-8.1 -7.1zM894.8 533.3l8.1 7.1l-8.1 7.1l-8.1 -7.1zM896.5 531.4l8.1 7.1l-8.1 7.1l-8.1 -7.1zM898.1 529.0l8.1 7.1l-8.1 7.1l-8.1 -7.1zM899.8 526.5l8.1 7.1l-8.1 7.1l-8.1 -7.1zM901.4 524.1l8.1 7.1l-8.1 7.1l-8.1 -7.1zM903.0 521.6l8.1 7.1l-8.1 7.1l-8.1 -7.1zM904.7 519.2l8.1 7.1l-8.1 7.1l-8.1 -7.1zM906.3 516.7l8.1 7.1l-8.1 7.1l-8.1 -7.1zM908.0 514.2l8.1 7.1l-8.1 7.1l-8.1 -7.1zM909.6 511.1l8.1 7.1l-8.1 7.1l-8.1 -7.1zM911.2 508.0l8.1 7.1l-8.1 7.1l-8.1 -7.1zM912.9 504.9l8.1 7.1l-8.1 7.1l-8.1 -7.1zM914.5 501.8l8.1 7.1l-8.1 7.1l-8.1 -7.1zM916.2 498.7l8.1 7.1l-8.1 7.1l-8.1 -7.1zM917.8 495.2l8.1 7.1l-8.1 7.1l-8.1 -7.1zM919.4 490.3l8.1 7.1l-8.1 7.1l-8.1 -7.1zM921.1 485.4l8.1 7.1l-8.1 7.1l-8.1 -7.1zM922.7 480.5l8.1 7.1l-8.1 7.1l-8.1 -7.1zM924.4 475.6l8.1 7.1l-8.1 7.1l-8.1 -7.1zM926.0 470.7l8.1 7.1l-8.1 7.1l-8.1 -7.1zM927.6 465.8l8.1 7.1l-8.1 7.1l-8.1 -7.1zM929.3 460.8l8.1 7.1l-8.1 7.1l-8.1 -7.1zM930.9 457.7l8.1 7.1l-8.1 7.1l-8.1 -7.1zM932.6 455.0l8.1 7.1l-8.1 7.1l-8.1 -7.1zM934.2 452.3l8.1 7.1l-8.1 7.1l-8.1 -7.1zM935.8 449.6l8.1 7.1l-8.1 7.1l-8.1 -7.1zM936.9 447.9l8.1 7.1l-8.1 7.1l-8.1 -7.1zM937.5 449.4l8.1 7.1l-8.1 7.1l-8.1 -7.1zM939.1 453.4l8.1 7.1l-8.1 7.1l-8.1 -7.1zM940.8 457.5l8.1 7.1l-8.1 7.1l-8.1 -7.1zM942.4 461.6l8.1 7.1l-8.1 7.1l-8.1 -7.1zM944.0 465.6l8.1 7.1l-8.1 7.1l-8.1 -7.1zM945.7 473.4l8.1 7.1l-8.1 7.1l-8.1 -7.1zM947.3 481.5l8.1 7.1l-8.1 7.1l-8.1 -7.1zM949.0 489.7l8.1 7.1l-8.1 7.1l-8.1 -7.1zM950.6 494.6l8.1 7.1l-8.1 7.1l-8.1 -7.1zM952.2 499.2l8.1 7.1l-8.1 7.1l-8.1 -7.1zM953.9 503.8l8.1 7.1l-8.1 7.1l-8.1 -7.1zM955.5 508.4l8.1 7.1l-8.1 7.1l-8.1 -7.1zM956.4 510.9l8.1 7.1l-8.1 7.1l-8.1 -7.1zM957.2 509.0l8.1 7.1l-8.1 7.1l-8.1 -7.1zM958.8 505.1l8.1 7.1l-8.1 7.1l-8.1 -7.1zM960.4 501.1l8.1 7.1l-8.1 7.1l-8.1 -7.1zM962.1 497.1l8.1 7.1l-8.1 7.1l-8.1 -7.1zM963.7 493.1l8.1 7.1l-8.1 7.1l-8.1 -7.1zM965.4 488.0l8.1 7.1l-8.1 7.1l-8.1 -7.1zM967.0 479.8l8.1 7.1l-8.1 7.1l-8.1 -7.1zM968.6 471.7l8.1 7.1l-8.1 7.1l-8.1 -7.1zM970.3 461.0l8.1 7.1l-8.1 7.1l-8.1 -7.1zM971.9 444.3l8.1 7.1l-8.1 7.1l-8.1 -7.1zM972.7 433.7l8.1 7.1l-8.1 7.1l-8.1 -7.1zM973.6 423.1l8.1 7.1l-8.1 7.1l-8.1 -7.1zM975.2 419.2l8.1 7.1l-8.1 7.1l-8.1 -7.1zM976.8 415.3l8.1 7.1l-8.1 7.1l-8.1 -7.1zM978.3 411.9l8.1 7.1l-8.1 7.1l-8.1 -7.1zM978.5 411.9l8.1 7.1l-8.1 7.1l-8.1 -7.1zM980.1 412.0l8.1 7.1l-8.1 7.1l-8.1 -7.1zM981.8 412.2l8.1 7.1l-8.1 7.1l-8.1 -7.1zM983.4 412.3l8.1 7.1l-8.1 7.1l-8.1 -7.1zM985.0 412.5l8.1 7.1l-8.1 7.1l-8.1 -7.1zM986.7 412.6l8.1 7.1l-8.1 7.1l-8.1 -7.1zM988.3 412.7l8.1 7.1l-8.1 7.1l-8.1 -7.1zM990.0 412.9l8.1 7.1l-8.1 7.1l-8.1 -7.1zM990.5 412.9l8.1 7.1l-8.1 7.1l-8.1 -7.1zM991.6 412.0l8.1 7.1l-8.1 7.1l-8.1 -7.1zM993.2 410.8l8.1 7.1l-8.1 7.1l-8.1 -7.1zM994.9 409.5l8.1 7.1l-8.1 7.1l-8.1 -7.1zM996.5 408.3l8.1 7.1l-8.1 7.1l-8.1 -7.1zM997.6 406.1l8.1 7.1l-8.1 7.1l-8.1 -7.1zM998.7 403.0l8.1 7.1l-8.1 7.1l-8.1 -7.1zM999.8 399.8l8.1 7.1l-8.1 7.1l-8.1 -7.1zM1000.9 396.7l8.1 7.1l-8.1 7.1l-8.1 -7.1zM1002.0 393.4l8.1 7.1l-8.1 7.1l-8.1 -7.1zM1003.1 386.1l8.1 7.1l-8.1 7.1l-8.1 -7.1zM1004.2 378.7l8.1 7.1l-8.1 7.1l-8.1 -7.1zM1005.3 371.4l8.1 7.1l-8.1 7.1l-8.1 -7.1zM1006.4 364.0l8.1 7.1l-8.1 7.1l-8.1 -7.1zM1007.5 356.7l8.1 7.1l-8.1 7.1l-8.1 -7.1zM1008.6 349.3l8.1 7.1l-8.1 7.1l-8.1 -7.1zM1009.7 342.6l8.1 7.1l-8.1 7.1l-8.1 -7.1zM1010.8 337.1l8.1 7.1l-8.1 7.1l-8.1 -7.1zM1011.9 331.7l8.1 7.1l-8.1 7.1l-8.1 -7.1zM1013.0 326.2l8.1 7.1l-8.1 7.1l-8.1 -7.1zM1014.1 320.7l8.1 7.1l-8.1 7.1l-8.1 -7.1zM1015.8 311.3l8.1 7.1l-8.1 7.1l-8.1 -7.1zM1017.4 301.5l8.1 7.1l-8.1 7.1l-8.1 -7.1zM1019.7 287.7l8.1 7.1l-8.1 7.1l-8.1 -7.1zM1022.0 271.5l8.1 7.1l-8.1 7.1l-8.1 -7.1zM1023.2 259.2l8.1 7.1l-8.1 7.1l-8.1 -7.1zM1024.3 246.9l8.1 7.1l-8.1 7.1l-8.1 -7.1zM1025.5 229.2l8.1 7.1l-8.1 7.1l-8.1 -7.1zM1026.6 211.5l8.1 7.1l-8.1 7.1l-8.1 -7.1zM1027.8 194.0l8.1 7.1l-8.1 7.1l-8.1 -7.1zM1028.9 176.5l8.1 7.1l-8.1 7.1l-8.1 -7.1zM1030.1 160.2l8.1 7.1l-8.1 7.1l-8.1 -7.1zM1031.2 143.8l8.1 7.1l-8.1 7.1l-8.1 -7.1zM1032.4 126.9l8.1 7.1l-8.1 7.1l-8.1 -7.1zM1033.5 110.0l8.1 7.1l-8.1 7.1l-8.1 -7.1zM1035.5 94.2l8.1 7.1l-8.1 7.1l-8.1 -7.1zM1035.8 95.3l8.1 7.1l-8.1 7.1l-8.1 -7.1zM1037.4 101.1l8.1 7.1l-8.1 7.1l-8.1 -7.1zM1038.4 104.7l8.1 7.1l-8.1 7.1l-8.1 -7.1zM1039.4 108.2l8.1 7.1l-8.1 7.1l-8.1 -7.1zM1040.4 111.8l8.1 7.1l-8.1 7.1l-8.1 -7.1zM1041.4 115.4l8.1 7.1l-8.1 7.1l-8.1 -7.1zM1042.4 118.9l8.1 7.1l-8.1 7.1l-8.1 -7.1zM1043.4 124.9l8.1 7.1l-8.1 7.1l-8.1 -7.1zM1044.4 131.6l8.1 7.1l-8.1 7.1l-8.1 -7.1zM1045.4 138.4l8.1 7.1l-8.1 7.1l-8.1 -7.1zM1046.4 145.2l8.1 7.1l-8.1 7.1l-8.1 -7.1zM1047.4 151.8l8.1 7.1l-8.1 7.1l-8.1 -7.1zM1048.4 158.4l8.1 7.1l-8.1 7.1l-8.1 -7.1zM1049.4 165.0l8.1 7.1l-8.1 7.1l-8.1 -7.1zM1050.4 171.6l8.1 7.1l-8.1 7.1l-8.1 -7.1zM1051.4 178.5l8.1 7.1l-8.1 7.1l-8.1 -7.1zM1052.4 186.2l8.1 7.1l-8.1 7.1l-8.1 -7.1zM1053.4 193.8l8.1 7.1l-8.1 7.1l-8.1 -7.1zM1054.4 200.2l8.1 7.1l-8.1 7.1l-8.1 -7.1zM1055.4 205.2l8.1 7.1l-8.1 7.1l-8.1 -7.1zM1056.4 210.2l8.1 7.1l-8.1 7.1l-8.1 -7.1zM1057.4 213.3l8.1 7.1l-8.1 7.1l-8.1 -7.1zM1059.1 214.9l8.1 7.1l-8.1 7.1l-8.1 -7.1zM1060.7 216.5l8.1 7.1l-8.1 7.1l-8.1 -7.1zM1062.4 218.0l8.1 7.1l-8.1 7.1l-8.1 -7.1zM1064.0 219.6l8.1 7.1l-8.1 7.1l-8.1 -7.1zM1065.6 221.2l8.1 7.1l-8.1 7.1l-8.1 -7.1zM1067.3 222.8l8.1 7.1l-8.1 7.1l-8.1 -7.1zM1068.9 224.3l8.1 7.1l-8.1 7.1l-8.1 -7.1zM1070.6 225.9l8.1 7.1l-8.1 7.1l-8.1 -7.1zM1072.2 227.7l8.1 7.1l-8.1 7.1l-8.1 -7.1zM1073.8 229.6l8.1 7.1l-8.1 7.1l-8.1 -7.1zM1075.5 231.5l8.1 7.1l-8.1 7.1l-8.1 -7.1zM1077.1 233.4l8.1 7.1l-8.1 7.1l-8.1 -7.1zM1078.8 235.3l8.1 7.1l-8.1 7.1l-8.1 -7.1zM1080.4 237.2l8.1 7.1l-8.1 7.1l-8.1 -7.1zM1082.0 239.1l8.1 7.1l-8.1 7.1l-8.1 -7.1zM1083.7 241.0l8.1 7.1l-8.1 7.1l-8.1 -7.1zM1085.3 242.9l8.1 7.1l-8.1 7.1l-8.1 -7.1zM1087.0 244.5l8.1 7.1l-8.1 7.1l-8.1 -7.1zM1088.6 246.0l8.1 7.1l-8.1 7.1l-8.1 -7.1zM1090.2 247.6l8.1 7.1l-8.1 7.1l-8.1 -7.1zM1091.9 249.1l8.1 7.1l-8.1 7.1l-8.1 -7.1zM1093.5 250.7l8.1 7.1l-8.1 7.1l-8.1 -7.1zM1095.2 252.2l8.1 7.1l-8.1 7.1l-8.1 -7.1zM1096.8 253.8l8.1 7.1l-8.1 7.1l-8.1 -7.1zM1098.4 255.3l8.1 7.1l-8.1 7.1l-8.1 -7.1zM1100.1 256.8l8.1 7.1l-8.1 7.1l-8.1 -7.1zM1101.7 258.2l8.1 7.1l-8.1 7.1l-8.1 -7.1zM1103.4 259.6l8.1 7.1l-8.1 7.1l-8.1 -7.1zM1105.0 261.0l8.1 7.1l-8.1 7.1l-8.1 -7.1zM1106.7 262.4l8.1 7.1l-8.1 7.1l-8.1 -7.1zM1108.3 263.8l8.1 7.1l-8.1 7.1l-8.1 -7.1zM1109.9 265.2l8.1 7.1l-8.1 7.1l-8.1 -7.1zM1111.6 266.6l8.1 7.1l-8.1 7.1l-8.1 -7.1zM1113.2 268.0l8.1 7.1l-8.1 7.1l-8.1 -7.1zM1114.9 269.4l8.1 7.1l-8.1 7.1l-8.1 -7.1zM1116.5 270.8l8.1 7.1l-8.1 7.1l-8.1 -7.1zM1118.1 271.5l8.1 7.1l-8.1 7.1l-8.1 -7.1zM1119.8 272.1l8.1 7.1l-8.1 7.1l-8.1 -7.1zM1121.4 272.7l8.1 7.1l-8.1 7.1l-8.1 -7.1zM1123.1 273.3l8.1 7.1l-8.1 7.1l-8.1 -7.1zM1124.7 273.9l8.1 7.1l-8.1 7.1l-8.1 -7.1zM1126.3 274.5l8.1 7.1l-8.1 7.1l-8.1 -7.1zM1128.0 275.1l8.1 7.1l-8.1 7.1l-8.1 -7.1zM1129.6 275.8l8.1 7.1l-8.1 7.1l-8.1 -7.1zM1130.8 276.2l8.1 7.1l-8.1 7.1l-8.1 -7.1zM1131.3 274.5l8.1 7.1l-8.1 7.1l-8.1 -7.1zM1132.9 268.4l8.1 7.1l-8.1 7.1l-8.1 -7.1zM1134.5 262.3l8.1 7.1l-8.1 7.1l-8.1 -7.1zM1136.2 256.1l8.1 7.1l-8.1 7.1l-8.1 -7.1zM1137.8 248.3l8.1 7.1l-8.1 7.1l-8.1 -7.1zM1139.5 240.1l8.1 7.1l-8.1 7.1l-8.1 -7.1zM1141.1 231.9l8.1 7.1l-8.1 7.1l-8.1 -7.1zM1142.7 223.8l8.1 7.1l-8.1 7.1l-8.1 -7.1zM1144.4 215.6l8.1 7.1l-8.1 7.1l-8.1 -7.1zM1146.0 207.4l8.1 7.1l-8.1 7.1l-8.1 -7.1zM1147.7 199.2l8.1 7.1l-8.1 7.1l-8.1 -7.1zM1149.3 191.7l8.1 7.1l-8.1 7.1l-8.1 -7.1zM1150.9 184.2l8.1 7.1l-8.1 7.1l-8.1 -7.1zM1152.6 177.7l8.1 7.1l-8.1 7.1l-8.1 -7.1zM1154.2 173.6l8.1 7.1l-8.1 7.1l-8.1 -7.1zM1155.5 170.4l8.1 7.1l-8.1 7.1l-8.1 -7.1zM1155.9 171.5l8.1 7.1l-8.1 7.1l-8.1 -7.1zM1157.5 176.7l8.1 7.1l-8.1 7.1l-8.1 -7.1zM1159.1 181.9l8.1 7.1l-8.1 7.1l-8.1 -7.1zM1160.8 187.0l8.1 7.1l-8.1 7.1l-8.1 -7.1zM1162.4 192.2l8.1 7.1l-8.1 7.1l-8.1 -7.1zM1164.1 197.4l8.1 7.1l-8.1 7.1l-8.1 -7.1zM1165.7 202.6l8.1 7.1l-8.1 7.1l-8.1 -7.1zM1167.3 207.7l8.1 7.1l-8.1 7.1l-8.1 -7.1zM1169.0 214.2l8.1 7.1l-8.1 7.1l-8.1 -7.1zM1170.6 221.1l8.1 7.1l-8.1 7.1l-8.1 -7.1zM1172.3 227.9l8.1 7.1l-8.1 7.1l-8.1 -7.1zM1173.9 234.8l8.1 7.1l-8.1 7.1l-8.1 -7.1zM1175.5 241.6l8.1 7.1l-8.1 7.1l-8.1 -7.1zM1177.2 249.8l8.1 7.1l-8.1 7.1l-8.1 -7.1zM1178.8 258.1l8.1 7.1l-8.1 7.1l-8.1 -7.1zM1180.5 266.3l8.1 7.1l-8.1 7.1l-8.1 -7.1zM1182.1 276.0l8.1 7.1l-8.1 7.1l-8.1 -7.1zM1183.7 288.1l8.1 7.1l-8.1 7.1l-8.1 -7.1zM1185.4 300.2l8.1 7.1l-8.1 7.1l-8.1 -7.1zM1187.0 312.7l8.1 7.1l-8.1 7.1l-8.1 -7.1zM1188.7 325.2l8.1 7.1l-8.1 7.1l-8.1 -7.1zM1190.3 337.5l8.1 7.1l-8.1 7.1l-8.1 -7.1zM1191.9 349.7l8.1 7.1l-8.1 7.1l-8.1 -7.1zM1193.6 361.5l8.1 7.1l-8.1 7.1l-8.1 -7.1zM1195.2 369.7l8.1 7.1l-8.1 7.1l-8.1 -7.1zM1196.9 377.9l8.1 7.1l-8.1 7.1l-8.1 -7.1zM1198.5 386.1l8.1 7.1l-8.1 7.1l-8.1 -7.1zM1200.1 393.3l8.1 7.1l-8.1 7.1l-8.1 -7.1zM1201.8 399.5l8.1 7.1l-8.1 7.1l-8.1 -7.1zM1203.4 405.7l8.1 7.1l-8.1 7.1l-8.1 -7.1zM1205.1 411.8l8.1 7.1l-8.1 7.1l-8.1 -7.1zM1206.7 418.0l8.1 7.1l-8.1 7.1l-8.1 -7.1zM1208.3 425.1l8.1 7.1l-8.1 7.1l-8.1 -7.1zM1210.0 432.7l8.1 7.1l-8.1 7.1l-8.1 -7.1zM1211.6 440.3l8.1 7.1l-8.1 7.1l-8.1 -7.1zM1213.3 447.9l8.1 7.1l-8.1 7.1l-8.1 -7.1zM1214.9 455.5l8.1 7.1l-8.1 7.1l-8.1 -7.1zM1215.2 456.9l8.1 7.1l-8.1 7.1l-8.1 -7.1zM1216.5 450.7l8.1 7.1l-8.1 7.1l-8.1 -7.1zM1218.2 443.0l8.1 7.1l-8.1 7.1l-8.1 -7.1zM1219.8 435.3l8.1 7.1l-8.1 7.1l-8.1 -7.1zM1221.5 427.6l8.1 7.1l-8.1 7.1l-8.1 -7.1zM1223.1 419.9l8.1 7.1l-8.1 7.1l-8.1 -7.1zM1224.7 414.9l8.1 7.1l-8.1 7.1l-8.1 -7.1zM1226.4 410.0l8.1 7.1l-8.1 7.1l-8.1 -7.1zM1228.0 405.0l8.1 7.1l-8.1 7.1l-8.1 -7.1zM1229.7 400.0l8.1 7.1l-8.1 7.1l-8.1 -7.1zM1231.3 395.7l8.1 7.1l-8.1 7.1l-8.1 -7.1zM1232.9 394.5l8.1 7.1l-8.1 7.1l-8.1 -7.1zM1234.6 393.2l8.1 7.1l-8.1 7.1l-8.1 -7.1zM1235.0 392.9l8.1 7.1l-8.1 7.1l-8.1 -7.1zM1236.2 394.1l8.1 7.1l-8.1 7.1l-8.1 -7.1zM1237.9 395.8l8.1 7.1l-8.1 7.1l-8.1 -7.1zM1239.5 397.4l8.1 7.1l-8.1 7.1l-8.1 -7.1zM1241.1 399.0l8.1 7.1l-8.1 7.1l-8.1 -7.1zM1242.8 400.7l8.1 7.1l-8.1 7.1l-8.1 -7.1zM1244.4 402.3l8.1 7.1l-8.1 7.1l-8.1 -7.1zM1246.1 404.0l8.1 7.1l-8.1 7.1l-8.1 -7.1zM1247.7 405.8l8.1 7.1l-8.1 7.1l-8.1 -7.1zM1249.3 407.6l8.1 7.1l-8.1 7.1l-8.1 -7.1zM1251.0 409.4l8.1 7.1l-8.1 7.1l-8.1 -7.1zM1252.6 411.1l8.1 7.1l-8.1 7.1l-8.1 -7.1zM1254.3 412.9l8.1 7.1l-8.1 7.1l-8.1 -7.1zM1254.7 413.4l8.1 7.1l-8.1 7.1l-8.1 -7.1zM1255.9 398.1l8.1 7.1l-8.1 7.1l-8.1 -7.1zM1256.7 384.3l8.1 7.1l-8.1 7.1l-8.1 -7.1zM1257.4 370.6l8.1 7.1l-8.1 7.1l-8.1 -7.1zM1258.2 356.8l8.1 7.1l-8.1 7.1l-8.1 -7.1zM1259.3 339.7l8.1 7.1l-8.1 7.1l-8.1 -7.1zM1260.5 322.6l8.1 7.1l-8.1 7.1l-8.1 -7.1zM1261.6 305.5l8.1 7.1l-8.1 7.1l-8.1 -7.1zM1262.8 288.5l8.1 7.1l-8.1 7.1l-8.1 -7.1zM1263.9 271.5l8.1 7.1l-8.1 7.1l-8.1 -7.1zM1265.1 254.4l8.1 7.1l-8.1 7.1l-8.1 -7.1zM1266.2 240.2l8.1 7.1l-8.1 7.1l-8.1 -7.1zM1267.4 226.0l8.1 7.1l-8.1 7.1l-8.1 -7.1zM1269.7 208.5l8.1 7.1l-8.1 7.1l-8.1 -7.1zM1272.0 195.2l8.1 7.1l-8.1 7.1l-8.1 -7.1zM1274.3 184.2l8.1 7.1l-8.1 7.1l-8.1 -7.1zM1274.5 183.2l8.1 7.1l-8.1 7.1l-8.1 -7.1zM1275.9 187.2l8.1 7.1l-8.1 7.1l-8.1 -7.1zM1277.4 191.4l8.1 7.1l-8.1 7.1l-8.1 -7.1zM1278.9 195.6l8.1 7.1l-8.1 7.1l-8.1 -7.1zM1280.4 199.8l8.1 7.1l-8.1 7.1l-8.1 -7.1zM1281.9 205.8l8.1 7.1l-8.1 7.1l-8.1 -7.1zM1283.4 211.8l8.1 7.1l-8.1 7.1l-8.1 -7.1zM1284.9 217.8l8.1 7.1l-8.1 7.1l-8.1 -7.1zM1286.4 223.8l8.1 7.1l-8.1 7.1l-8.1 -7.1zM1287.9 229.4l8.1 7.1l-8.1 7.1l-8.1 -7.1zM1289.4 234.4l8.1 7.1l-8.1 7.1l-8.1 -7.1zM1290.9 239.4l8.1 7.1l-8.1 7.1l-8.1 -7.1zM1292.4 244.5l8.1 7.1l-8.1 7.1l-8.1 -7.1zM1293.9 249.5l8.1 7.1l-8.1 7.1l-8.1 -7.1zM1295.4 254.6l8.1 7.1l-8.1 7.1l-8.1 -7.1zM1296.9 260.1l8.1 7.1l-8.1 7.1l-8.1 -7.1zM1298.4 265.7l8.1 7.1l-8.1 7.1l-8.1 -7.1zM1299.9 271.3l8.1 7.1l-8.1 7.1l-8.1 -7.1zM1301.4 276.9l8.1 7.1l-8.1 7.1l-8.1 -7.1zM1302.9 282.5l8.1 7.1l-8.1 7.1l-8.1 -7.1zM1304.4 288.2l8.1 7.1l-8.1 7.1l-8.1 -7.1zM1305.9 293.9l8.1 7.1l-8.1 7.1l-8.1 -7.1zM1307.4 301.0l8.1 7.1l-8.1 7.1l-8.1 -7.1zM1308.9 308.4l8.1 7.1l-8.1 7.1l-8.1 -7.1zM1310.4 319.9l8.1 7.1l-8.1 7.1l-8.1 -7.1zM1311.0 340.7l8.1 7.1l-8.1 7.1l-8.1 -7.1zM1311.3 330.0l8.1 7.1l-8.1 7.1l-8.1 -7.1zM1312.1 340.1l8.1 7.1l-8.1 7.1l-8.1 -7.1zM1313.7 339.3l8.1 7.1l-8.1 7.1l-8.1 -7.1zM1315.4 338.4l8.1 7.1l-8.1 7.1l-8.1 -7.1zM1317.0 337.5l8.1 7.1l-8.1 7.1l-8.1 -7.1zM1318.6 336.6l8.1 7.1l-8.1 7.1l-8.1 -7.1zM1320.3 335.7l8.1 7.1l-8.1 7.1l-8.1 -7.1zM1321.9 334.8l8.1 7.1l-8.1 7.1l-8.1 -7.1zM1323.6 333.9l8.1 7.1l-8.1 7.1l-8.1 -7.1zM1325.2 333.0l8.1 7.1l-8.1 7.1l-8.1 -7.1zM1326.8 332.1l8.1 7.1l-8.1 7.1l-8.1 -7.1zM1328.5 331.2l8.1 7.1l-8.1 7.1l-8.1 -7.1zM1329.0 330.9l8.1 7.1l-8.1 7.1l-8.1 -7.1zM1330.1 333.3l8.1 7.1l-8.1 7.1l-8.1 -7.1zM1331.8 336.8l8.1 7.1l-8.1 7.1l-8.1 -7.1zM1333.4 340.4l8.1 7.1l-8.1 7.1l-8.1 -7.1zM1335.0 343.9l8.1 7.1l-8.1 7.1l-8.1 -7.1zM1336.7 347.4l8.1 7.1l-8.1 7.1l-8.1 -7.1zM1338.3 351.6l8.1 7.1l-8.1 7.1l-8.1 -7.1zM1340.0 356.6l8.1 7.1l-8.1 7.1l-8.1 -7.1zM1341.6 361.5l8.1 7.1l-8.1 7.1l-8.1 -7.1zM1343.2 366.4l8.1 7.1l-8.1 7.1l-8.1 -7.1zM1344.9 371.2l8.1 7.1l-8.1 7.1l-8.1 -7.1zM1346.5 375.7l8.1 7.1l-8.1 7.1l-8.1 -7.1zM1348.2 380.2l8.1 7.1l-8.1 7.1l-8.1 -7.1zM1349.8 384.7l8.1 7.1l-8.1 7.1l-8.1 -7.1zM1351.1 388.3l8.1 7.1l-8.1 7.1l-8.1 -7.1zM1351.4 387.4l8.1 7.1l-8.1 7.1l-8.1 -7.1zM1353.1 382.9l8.1 7.1l-8.1 7.1l-8.1 -7.1zM1354.6 378.8l8.1 7.1l-8.1 7.1l-8.1 -7.1zM1356.1 374.6l8.1 7.1l-8.1 7.1l-8.1 -7.1zM1357.6 370.5l8.1 7.1l-8.1 7.1l-8.1 -7.1zM1359.1 363.7l8.1 7.1l-8.1 7.1l-8.1 -7.1zM1360.6 356.2l8.1 7.1l-8.1 7.1l-8.1 -7.1zM1362.1 348.6l8.1 7.1l-8.1 7.1l-8.1 -7.1zM1363.6 341.1l8.1 7.1l-8.1 7.1l-8.1 -7.1zM1365.1 333.6l8.1 7.1l-8.1 7.1l-8.1 -7.1zM1366.6 326.2l8.1 7.1l-8.1 7.1l-8.1 -7.1zM1368.1 318.8l8.1 7.1l-8.1 7.1l-8.1 -7.1zM1369.6 312.1l8.1 7.1l-8.1 7.1l-8.1 -7.1zM1371.1 306.2l8.1 7.1l-8.1 7.1l-8.1 -7.1zM1372.6 300.2l8.1 7.1l-8.1 7.1l-8.1 -7.1zM1374.1 294.2l8.1 7.1l-8.1 7.1l-8.1 -7.1zM1375.6 288.2l8.1 7.1l-8.1 7.1l-8.1 -7.1zM1377.1 282.1l8.1 7.1l-8.1 7.1l-8.1 -7.1zM1378.6 276.0l8.1 7.1l-8.1 7.1l-8.1 -7.1zM1380.1 270.0l8.1 7.1l-8.1 7.1l-8.1 -7.1zM1381.6 263.9l8.1 7.1l-8.1 7.1l-8.1 -7.1zM1383.1 258.3l8.1 7.1l-8.1 7.1l-8.1 -7.1zM1384.6 253.2l8.1 7.1l-8.1 7.1l-8.1 -7.1zM1386.1 248.1l8.1 7.1l-8.1 7.1l-8.1 -7.1zM1387.6 243.0l8.1 7.1l-8.1 7.1l-8.1 -7.1zM1389.1 237.9l8.1 7.1l-8.1 7.1l-8.1 -7.1zM1390.6 233.3l8.1 7.1l-8.1 7.1l-8.1 -7.1zM1392.1 228.7l8.1 7.1l-8.1 7.1l-8.1 -7.1zM1393.2 225.2l8.1 7.1l-8.1 7.1l-8.1 -7.1z" fill="none" stroke="#000000" stroke-width="2.8" stroke-linejoin="miter"/><polyline points="287.0,581.0 287.0,581.0 288.6,585.2 290.3,589.4 291.9,593.6 293.6,597.8 295.2,601.6 296.8,605.4 298.5,609.3 300.1,612.9 301.8,615.5 303.4,618.1 305.0,620.6 306.7,623.2 308.3,625.5 310.0,627.6 311.6,629.7 313.2,631.8 314.9,633.8 316.5,635.1 318.2,636.4 319.0,637.0 319.8,636.5 321.4,635.4 323.1,634.3 324.7,633.2 326.4,623.5 328.0,612.0 329.6,602.9 331.3,597.5 332.9,585.2 334.6,572.8 336.2,561.6 337.8,552.3 339.5,543.0 341.1,538.1 342.8,535.4 344.4,532.7 345.4,531.0 346.0,532.5 347.7,536.3 349.3,540.1 351.0,543.9 352.6,547.8 354.2,553.7 355.9,560.3 357.5,566.9 359.2,573.4 360.8,580.0 362.4,586.6 364.1,592.8 365.7,597.5 367.4,602.3 369.0,607.0 370.6,611.1 372.3,615.2 373.0,617.0 373.9,615.4 375.6,612.6 377.2,609.8 378.8,607.0 380.5,603.6 382.1,599.0 383.8,594.4 385.4,589.7 387.0,584.4 388.7,577.9 390.3,571.3 392.0,564.8 393.6,558.2 395.2,551.6 396.9,545.0 398.5,541.0 400.2,537.8 401.8,534.7 403.4,532.6 405.1,531.6 406.0,531.0 406.7,532.7 408.4,536.5 410.0,540.3 411.6,544.1 413.3,548.0 414.9,555.4 416.6,563.6 418.2,572.7 419.8,585.4 420.7,596.7 421.5,608.0 423.1,619.3 424.4,628.0 424.8,627.6 426.4,625.9 428.0,624.1 429.7,622.3 431.3,617.2 433.0,611.1 434.6,605.1 436.2,599.4 437.9,595.4 439.5,591.4 441.2,587.4 442.8,583.4 444.4,579.4 446.1,571.5 447.7,561.7 449.4,551.8 451.0,541.8 452.6,531.6 454.3,521.5 455.9,511.5 457.6,501.6 459.2,491.2 460.8,476.8 462.5,465.1 464.1,461.0 465.8,459.5 467.4,458.0 469.0,456.5 470.7,455.0 472.3,453.5 474.0,452.0 475.6,450.5 477.2,449.2 478.9,447.8 480.5,446.5 482.2,445.1 483.8,443.8 485.4,442.5 486.0,442.0 487.1,442.9 488.7,444.3 489.5,457.7 490.4,471.0 491.5,489.5 492.6,495.3 493.7,501.2 494.8,507.1 495.9,512.4 497.0,516.5 498.1,520.7 499.2,524.9 500.3,529.1 501.4,535.8 502.5,543.0 503.6,550.1 504.0,553.0 504.7,551.0 505.8,547.7 507.4,542.8 509.0,537.9 510.7,532.6 512.3,526.8 514.0,521.1 515.6,514.4 517.2,506.3 518.9,498.2 520.5,491.2 522.2,486.3 523.8,481.4 525.4,476.5 527.1,472.1 528.7,468.0 530.4,463.8 532.0,459.7 533.6,455.6 535.3,451.5 536.9,447.6 538.6,443.8 540.2,440.0 541.8,436.2 543.0,433.5 543.0,433.5 548.0,450.0 548.9,467.2 549.4,484.5 550.3,501.7 551.3,518.9 552.3,536.2 553.8,553.3 555.6,570.5 557.3,587.7 558.7,604.9 560.7,622.0 563.5,639.0 563.5,639.0 564.8,636.9 566.4,634.2 568.1,631.5 569.7,628.8 571.4,626.1 573.0,623.7 574.6,621.6 576.3,619.4 577.9,617.3 579.6,615.2 581.2,613.0 582.0,612.0 582.8,613.8 584.5,617.2 586.1,620.6 587.8,624.0 589.4,627.5 591.0,630.9 592.7,634.3 594.3,637.8 596.0,641.3 597.6,644.8 599.2,648.3 600.9,651.7 602.5,655.2 604.2,658.7 604.3,659.0 605.8,649.6 607.4,639.4 609.1,629.1 609.9,617.5 610.7,605.8 611.5,595.3 612.4,584.8 614.0,568.5 615.6,556.9 617.3,545.9 618.9,535.0 620.6,524.0 621.6,517.0 622.2,517.6 623.8,519.4 625.5,521.1 627.1,522.8 628.8,524.6 630.4,526.3 632.0,528.0 633.7,529.6 635.3,531.1 637.0,532.7 638.6,534.2 640.2,535.8 641.9,537.3 642.6,538.0 643.5,533.5 645.2,525.5 646.8,517.4 648.4,511.2 650.1,505.7 651.7,497.9 653.4,489.8 655.0,481.0 656.6,471.0 658.3,467.0 659.9,463.6 661.6,460.3 661.7,460.0 663.2,462.6 664.8,465.4 666.5,468.2 668.1,471.0 669.8,474.4 671.4,478.5 673.0,482.6 674.7,486.7 676.3,490.0 678.0,492.6 679.6,495.2 681.2,497.8 682.0,499.0 682.9,497.9 684.5,495.9 686.2,493.9 687.8,491.9 689.4,489.9 691.1,487.9 692.7,486.3 694.4,484.7 696.0,483.1 697.6,481.4 699.3,479.8 700.6,478.5 700.9,478.9 702.6,480.7 704.2,482.6 705.8,484.5 707.5,486.4 709.1,488.3 710.8,490.0 712.4,491.6 714.0,493.3 715.7,495.0 717.3,496.6 717.7,497.0 719.0,495.8 720.6,494.3 722.2,492.7 723.9,489.7 724.7,477.6 725.5,465.6 727.2,448.1 728.8,431.5 730.4,414.9 732.1,398.9 733.7,385.5 735.4,374.6 737.0,365.9 738.6,362.4 740.2,359.0 740.3,359.2 741.9,363.0 743.4,366.3 744.8,369.7 746.3,373.1 747.7,376.4 749.2,380.6 750.6,386.4 752.1,392.2 753.5,398.0 755.0,403.8 756.4,409.6 757.9,415.3 759.3,421.1 760.8,426.9 762.2,432.7 763.7,438.5 765.1,444.3 766.6,450.1 768.0,455.9 769.5,461.6 770.9,467.4 772.4,473.2 773.8,479.1 775.3,485.3 776.7,491.4 778.2,497.6 779.6,503.7 781.1,508.0 782.5,511.5 784.0,515.1 785.4,518.7 786.9,522.3 788.3,525.9 789.8,529.5 791.2,533.3 792.7,537.2 794.1,541.0 795.6,544.8 797.0,548.6 798.5,552.3 799.9,554.4 801.4,556.6 802.0,557.5 803.0,551.3 804.6,541.3 806.3,531.3 807.1,514.3 807.9,497.3 808.7,482.7 809.6,468.1 810.4,454.2 811.2,440.4 812.0,429.7 812.8,419.1 814.5,403.2 816.1,391.5 817.8,384.6 819.4,382.0 820.0,381.0 821.0,385.3 822.7,392.0 824.3,398.7 826.0,408.6 827.6,424.6 829.2,443.6 830.9,461.9 832.5,479.8 834.2,495.5 835.8,509.6 837.4,513.8 839.1,517.9 840.7,522.0 840.7,522.0 842.4,521.9 844.0,521.8 845.6,521.7 847.3,521.6 848.9,521.5 850.6,521.4 852.2,521.3 853.8,521.2 855.5,521.1 856.5,521.0 857.1,522.0 858.8,524.7 860.4,527.2 862.0,529.2 863.7,531.1 865.3,533.1 867.0,535.0 868.6,536.9 870.2,538.9 871.9,540.5 873.5,541.8 875.2,543.1 876.8,544.4 878.4,545.7 880.1,547.0 881.7,548.3 882.1,548.6 883.4,547.8 885.0,546.7 886.6,545.7 888.3,544.6 889.9,543.6 891.6,542.5 893.2,541.5 894.8,540.4 896.5,538.5 898.1,536.1 899.8,533.6 901.4,531.2 903.0,528.7 904.7,526.3 906.3,523.8 908.0,521.3 909.6,518.2 911.2,515.1 912.9,512.0 914.5,508.9 916.2,505.8 917.8,502.3 919.4,497.4 921.1,492.5 922.7,487.6 924.4,482.7 926.0,477.8 927.6,472.9 929.3,467.9 930.9,464.8 932.6,462.1 934.2,459.4 935.8,456.7 936.9,455.0 937.5,456.5 939.1,460.5 940.8,464.6 942.4,468.7 944.0,472.7 945.7,480.5 947.3,488.6 949.0,496.8 950.6,501.7 952.2,506.3 953.9,510.9 955.5,515.5 956.4,518.0 957.2,516.1 958.8,512.2 960.4,508.2 962.1,504.2 963.7,500.2 965.4,495.1 967.0,486.9 968.6,478.8 970.3,468.1 971.9,451.4 972.7,440.8 973.6,430.2 975.2,426.3 976.8,422.4 978.3,419.0 978.5,419.0 980.1,419.1 981.8,419.3 983.4,419.4 985.0,419.6 986.7,419.7 988.3,419.8 990.0,420.0 990.5,420.0 991.6,419.1 993.2,417.9 994.9,416.6 996.5,415.4 997.6,413.2 998.7,410.1 999.8,406.9 1000.9,403.8 1002.0,400.5 1003.1,393.2 1004.2,385.8 1005.3,378.5 1006.4,371.1 1007.5,363.8 1008.6,356.4 1009.7,349.7 1010.8,344.2 1011.9,338.8 1013.0,333.3 1014.1,327.8 1015.8,318.4 1017.4,308.6 1019.7,294.8 1022.0,278.6 1023.2,266.3 1024.3,254.0 1025.5,236.3 1026.6,218.6 1027.8,201.1 1028.9,183.6 1030.1,167.3 1031.2,150.9 1032.4,134.0 1033.5,117.1 1035.5,101.3 1035.8,102.4 1037.4,108.2 1038.4,111.8 1039.4,115.3 1040.4,118.9 1041.4,122.5 1042.4,126.0 1043.4,132.0 1044.4,138.7 1045.4,145.5 1046.4,152.3 1047.4,158.9 1048.4,165.5 1049.4,172.1 1050.4,178.7 1051.4,185.6 1052.4,193.3 1053.4,200.9 1054.4,207.3 1055.4,212.3 1056.4,217.3 1057.4,220.4 1059.1,222.0 1060.7,223.6 1062.4,225.1 1064.0,226.7 1065.6,228.3 1067.3,229.9 1068.9,231.4 1070.6,233.0 1072.2,234.8 1073.8,236.7 1075.5,238.6 1077.1,240.5 1078.8,242.4 1080.4,244.3 1082.0,246.2 1083.7,248.1 1085.3,250.0 1087.0,251.6 1088.6,253.1 1090.2,254.7 1091.9,256.2 1093.5,257.8 1095.2,259.3 1096.8,260.9 1098.4,262.4 1100.1,263.9 1101.7,265.3 1103.4,266.7 1105.0,268.1 1106.7,269.5 1108.3,270.9 1109.9,272.3 1111.6,273.7 1113.2,275.1 1114.9,276.5 1116.5,277.9 1118.1,278.6 1119.8,279.2 1121.4,279.8 1123.1,280.4 1124.7,281.0 1126.3,281.6 1128.0,282.2 1129.6,282.9 1130.8,283.3 1131.3,281.6 1132.9,275.5 1134.5,269.4 1136.2,263.2 1137.8,255.4 1139.5,247.2 1141.1,239.0 1142.7,230.9 1144.4,222.7 1146.0,214.5 1147.7,206.3 1149.3,198.8 1150.9,191.3 1152.6,184.8 1154.2,180.7 1155.5,177.5 1155.9,178.6 1157.5,183.8 1159.1,189.0 1160.8,194.1 1162.4,199.3 1164.1,204.5 1165.7,209.7 1167.3,214.8 1169.0,221.3 1170.6,228.2 1172.3,235.0 1173.9,241.9 1175.5,248.7 1177.2,256.9 1178.8,265.2 1180.5,273.4 1182.1,283.1 1183.7,295.2 1185.4,307.3 1187.0,319.8 1188.7,332.3 1190.3,344.6 1191.9,356.8 1193.6,368.6 1195.2,376.8 1196.9,385.0 1198.5,393.2 1200.1,400.4 1201.8,406.6 1203.4,412.8 1205.1,418.9 1206.7,425.1 1208.3,432.2 1210.0,439.8 1211.6,447.4 1213.3,455.0 1214.9,462.6 1215.2,464.0 1216.5,457.8 1218.2,450.1 1219.8,442.4 1221.5,434.7 1223.1,427.0 1224.7,422.0 1226.4,417.1 1228.0,412.1 1229.7,407.1 1231.3,402.8 1232.9,401.6 1234.6,400.3 1235.0,400.0 1236.2,401.2 1237.9,402.9 1239.5,404.5 1241.1,406.1 1242.8,407.8 1244.4,409.4 1246.1,411.1 1247.7,412.9 1249.3,414.7 1251.0,416.5 1252.6,418.2 1254.3,420.0 1254.7,420.5 1255.9,405.2 1256.7,391.4 1257.4,377.7 1258.2,363.9 1259.3,346.8 1260.5,329.7 1261.6,312.6 1262.8,295.6 1263.9,278.6 1265.1,261.5 1266.2,247.3 1267.4,233.1 1269.7,215.6 1272.0,202.3 1274.3,191.3 1274.5,190.3 1275.9,194.3 1277.4,198.5 1278.9,202.7 1280.4,206.9 1281.9,212.9 1283.4,218.9 1284.9,224.9 1286.4,230.9 1287.9,236.5 1289.4,241.5 1290.9,246.5 1292.4,251.6 1293.9,256.6 1295.4,261.7 1296.9,267.2 1298.4,272.8 1299.9,278.4 1301.4,284.0 1302.9,289.6 1304.4,295.3 1305.9,301.0 1307.4,308.1 1308.9,315.5 1310.4,327.0 1311.0,347.8 1311.3,337.1 1312.1,347.2 1313.7,346.4 1315.4,345.5 1317.0,344.6 1318.6,343.7 1320.3,342.8 1321.9,341.9 1323.6,341.0 1325.2,340.1 1326.8,339.2 1328.5,338.3 1329.0,338.0 1330.1,340.4 1331.8,343.9 1333.4,347.5 1335.0,351.0 1336.7,354.5 1338.3,358.7 1340.0,363.7 1341.6,368.6 1343.2,373.5 1344.9,378.3 1346.5,382.8 1348.2,387.3 1349.8,391.8 1351.1,395.4 1351.4,394.5 1353.1,390.0 1354.6,385.9 1356.1,381.7 1357.6,377.6 1359.1,370.8 1360.6,363.3 1362.1,355.7 1363.6,348.2 1365.1,340.7 1366.6,333.3 1368.1,325.9 1369.6,319.2 1371.1,313.3 1372.6,307.3 1374.1,301.3 1375.6,295.3 1377.1,289.2 1378.6,283.1 1380.1,277.1 1381.6,271.0 1383.1,265.4 1384.6,260.3 1386.1,255.2 1387.6,250.1 1389.1,245.0 1390.6,240.4 1392.1,235.8 1393.2,232.3" fill="none" stroke="#000000" stroke-width="2.6" stroke-linejoin="round"/><line x1="274" y1="623.6" x2="1409" y2="305.4" stroke="#ff4040" stroke-width="3.0" stroke-dasharray="23 7"/><line x1="274" y1="656.8" x2="1409" y2="295.9" stroke="#ff4040" stroke-width="3.0" stroke-dasharray="23 7"/><line x1="274" y1="640.0" x2="1409" y2="299.6" stroke="#ff0000" stroke-width="7"/></g><g clip-path="url(#cb)"><path d="M286.4 1105.2l8.2 6.8l-8.2 6.8l-8.2 -6.8zM286.4 1105.2l8.2 6.8l-8.2 6.8l-8.2 -6.8zM287.2 1087.8l8.2 6.8l-8.2 6.8l-8.2 -6.8zM288.1 1070.5l8.2 6.8l-8.2 6.8l-8.2 -6.8zM288.9 1053.1l8.2 6.8l-8.2 6.8l-8.2 -6.8zM289.7 1035.8l8.2 6.8l-8.2 6.8l-8.2 -6.8zM290.5 1018.8l8.2 6.8l-8.2 6.8l-8.2 -6.8zM291.4 1001.8l8.2 6.8l-8.2 6.8l-8.2 -6.8zM292.2 985.0l8.2 6.8l-8.2 6.8l-8.2 -6.8zM293.0 968.2l8.2 6.8l-8.2 6.8l-8.2 -6.8zM293.9 951.6l8.2 6.8l-8.2 6.8l-8.2 -6.8zM294.7 935.1l8.2 6.8l-8.2 6.8l-8.2 -6.8zM295.5 922.2l8.2 6.8l-8.2 6.8l-8.2 -6.8zM296.3 909.4l8.2 6.8l-8.2 6.8l-8.2 -6.8zM298.0 892.9l8.2 6.8l-8.2 6.8l-8.2 -6.8zM299.7 876.4l8.2 6.8l-8.2 6.8l-8.2 -6.8zM301.3 859.9l8.2 6.8l-8.2 6.8l-8.2 -6.8zM303.0 844.2l8.2 6.8l-8.2 6.8l-8.2 -6.8zM304.6 829.0l8.2 6.8l-8.2 6.8l-8.2 -6.8zM306.3 813.7l8.2 6.8l-8.2 6.8l-8.2 -6.8zM306.5 811.7l8.2 6.8l-8.2 6.8l-8.2 -6.8zM307.9 825.6l8.2 6.8l-8.2 6.8l-8.2 -6.8zM309.6 841.6l8.2 6.8l-8.2 6.8l-8.2 -6.8zM311.3 857.5l8.2 6.8l-8.2 6.8l-8.2 -6.8zM312.9 873.5l8.2 6.8l-8.2 6.8l-8.2 -6.8zM314.6 889.6l8.2 6.8l-8.2 6.8l-8.2 -6.8zM316.2 906.1l8.2 6.8l-8.2 6.8l-8.2 -6.8zM317.9 922.7l8.2 6.8l-8.2 6.8l-8.2 -6.8zM319.5 939.2l8.2 6.8l-8.2 6.8l-8.2 -6.8zM321.2 955.7l8.2 6.8l-8.2 6.8l-8.2 -6.8zM322.9 972.3l8.2 6.8l-8.2 6.8l-8.2 -6.8zM324.5 988.8l8.2 6.8l-8.2 6.8l-8.2 -6.8zM326.2 1005.3l8.2 6.8l-8.2 6.8l-8.2 -6.8zM327.8 1022.0l8.2 6.8l-8.2 6.8l-8.2 -6.8zM329.5 1038.8l8.2 6.8l-8.2 6.8l-8.2 -6.8zM331.1 1055.6l8.2 6.8l-8.2 6.8l-8.2 -6.8zM332.8 1072.4l8.2 6.8l-8.2 6.8l-8.2 -6.8zM334.5 1088.9l8.2 6.8l-8.2 6.8l-8.2 -6.8zM336.1 1105.4l8.2 6.8l-8.2 6.8l-8.2 -6.8zM337.8 1121.9l8.2 6.8l-8.2 6.8l-8.2 -6.8zM339.4 1139.4l8.2 6.8l-8.2 6.8l-8.2 -6.8zM341.1 1159.0l8.2 6.8l-8.2 6.8l-8.2 -6.8zM342.7 1178.7l8.2 6.8l-8.2 6.8l-8.2 -6.8zM344.4 1197.0l8.2 6.8l-8.2 6.8l-8.2 -6.8zM345.1 1204.2l8.2 6.8l-8.2 6.8l-8.2 -6.8zM346.1 1188.5l8.2 6.8l-8.2 6.8l-8.2 -6.8zM346.9 1174.9l8.2 6.8l-8.2 6.8l-8.2 -6.8zM347.7 1161.3l8.2 6.8l-8.2 6.8l-8.2 -6.8zM348.5 1147.6l8.2 6.8l-8.2 6.8l-8.2 -6.8zM349.4 1134.0l8.2 6.8l-8.2 6.8l-8.2 -6.8zM350.2 1120.4l8.2 6.8l-8.2 6.8l-8.2 -6.8zM351.0 1106.8l8.2 6.8l-8.2 6.8l-8.2 -6.8zM351.9 1090.7l8.2 6.8l-8.2 6.8l-8.2 -6.8zM352.7 1074.7l8.2 6.8l-8.2 6.8l-8.2 -6.8zM353.5 1058.2l8.2 6.8l-8.2 6.8l-8.2 -6.8zM354.3 1041.8l8.2 6.8l-8.2 6.8l-8.2 -6.8zM355.2 1025.2l8.2 6.8l-8.2 6.8l-8.2 -6.8zM356.0 1008.7l8.2 6.8l-8.2 6.8l-8.2 -6.8zM356.8 992.7l8.2 6.8l-8.2 6.8l-8.2 -6.8zM357.7 976.7l8.2 6.8l-8.2 6.8l-8.2 -6.8zM358.5 965.5l8.2 6.8l-8.2 6.8l-8.2 -6.8zM359.3 954.4l8.2 6.8l-8.2 6.8l-8.2 -6.8zM360.1 943.2l8.2 6.8l-8.2 6.8l-8.2 -6.8zM361.0 932.1l8.2 6.8l-8.2 6.8l-8.2 -6.8zM362.6 912.9l8.2 6.8l-8.2 6.8l-8.2 -6.8zM364.3 900.7l8.2 6.8l-8.2 6.8l-8.2 -6.8zM365.9 888.4l8.2 6.8l-8.2 6.8l-8.2 -6.8zM366.7 882.8l8.2 6.8l-8.2 6.8l-8.2 -6.8zM367.6 892.2l8.2 6.8l-8.2 6.8l-8.2 -6.8zM369.2 909.5l8.2 6.8l-8.2 6.8l-8.2 -6.8zM370.9 926.9l8.2 6.8l-8.2 6.8l-8.2 -6.8zM372.6 944.3l8.2 6.8l-8.2 6.8l-8.2 -6.8zM374.2 961.0l8.2 6.8l-8.2 6.8l-8.2 -6.8zM375.9 977.5l8.2 6.8l-8.2 6.8l-8.2 -6.8zM377.5 994.0l8.2 6.8l-8.2 6.8l-8.2 -6.8zM379.2 1010.8l8.2 6.8l-8.2 6.8l-8.2 -6.8zM380.0 1022.0l8.2 6.8l-8.2 6.8l-8.2 -6.8zM380.8 1033.1l8.2 6.8l-8.2 6.8l-8.2 -6.8zM381.7 1044.2l8.2 6.8l-8.2 6.8l-8.2 -6.8zM382.5 1055.4l8.2 6.8l-8.2 6.8l-8.2 -6.8zM383.3 1067.5l8.2 6.8l-8.2 6.8l-8.2 -6.8zM384.2 1079.7l8.2 6.8l-8.2 6.8l-8.2 -6.8zM385.0 1094.6l8.2 6.8l-8.2 6.8l-8.2 -6.8zM385.8 1109.4l8.2 6.8l-8.2 6.8l-8.2 -6.8zM386.8 1127.0l8.2 6.8l-8.2 6.8l-8.2 -6.8zM387.5 1114.5l8.2 6.8l-8.2 6.8l-8.2 -6.8zM388.3 1099.3l8.2 6.8l-8.2 6.8l-8.2 -6.8zM389.1 1084.0l8.2 6.8l-8.2 6.8l-8.2 -6.8zM390.0 1068.8l8.2 6.8l-8.2 6.8l-8.2 -6.8zM390.8 1053.5l8.2 6.8l-8.2 6.8l-8.2 -6.8zM391.6 1042.2l8.2 6.8l-8.2 6.8l-8.2 -6.8zM392.4 1030.9l8.2 6.8l-8.2 6.8l-8.2 -6.8zM394.1 1014.1l8.2 6.8l-8.2 6.8l-8.2 -6.8zM395.8 997.3l8.2 6.8l-8.2 6.8l-8.2 -6.8zM397.4 980.5l8.2 6.8l-8.2 6.8l-8.2 -6.8zM398.2 968.6l8.2 6.8l-8.2 6.8l-8.2 -6.8zM399.1 956.6l8.2 6.8l-8.2 6.8l-8.2 -6.8zM399.9 944.4l8.2 6.8l-8.2 6.8l-8.2 -6.8zM400.7 932.1l8.2 6.8l-8.2 6.8l-8.2 -6.8zM402.4 923.4l8.2 6.8l-8.2 6.8l-8.2 -6.8zM404.0 914.7l8.2 6.8l-8.2 6.8l-8.2 -6.8zM405.4 907.6l8.2 6.8l-8.2 6.8l-8.2 -6.8zM405.7 908.6l8.2 6.8l-8.2 6.8l-8.2 -6.8zM407.4 913.9l8.2 6.8l-8.2 6.8l-8.2 -6.8zM409.0 919.2l8.2 6.8l-8.2 6.8l-8.2 -6.8zM410.7 924.5l8.2 6.8l-8.2 6.8l-8.2 -6.8zM412.3 929.8l8.2 6.8l-8.2 6.8l-8.2 -6.8zM414.0 936.7l8.2 6.8l-8.2 6.8l-8.2 -6.8zM415.6 945.0l8.2 6.8l-8.2 6.8l-8.2 -6.8zM417.3 953.3l8.2 6.8l-8.2 6.8l-8.2 -6.8zM419.0 961.5l8.2 6.8l-8.2 6.8l-8.2 -6.8zM420.6 969.8l8.2 6.8l-8.2 6.8l-8.2 -6.8zM422.3 978.1l8.2 6.8l-8.2 6.8l-8.2 -6.8zM423.9 986.3l8.2 6.8l-8.2 6.8l-8.2 -6.8zM425.6 994.6l8.2 6.8l-8.2 6.8l-8.2 -6.8zM427.2 1002.8l8.2 6.8l-8.2 6.8l-8.2 -6.8zM428.9 1015.8l8.2 6.8l-8.2 6.8l-8.2 -6.8zM429.7 1032.9l8.2 6.8l-8.2 6.8l-8.2 -6.8zM430.6 1050.0l8.2 6.8l-8.2 6.8l-8.2 -6.8zM431.4 1063.7l8.2 6.8l-8.2 6.8l-8.2 -6.8zM432.2 1077.5l8.2 6.8l-8.2 6.8l-8.2 -6.8zM433.9 1094.1l8.2 6.8l-8.2 6.8l-8.2 -6.8zM435.5 1110.6l8.2 6.8l-8.2 6.8l-8.2 -6.8zM437.2 1127.1l8.2 6.8l-8.2 6.8l-8.2 -6.8zM438.8 1146.9l8.2 6.8l-8.2 6.8l-8.2 -6.8zM439.7 1157.9l8.2 6.8l-8.2 6.8l-8.2 -6.8zM440.5 1168.8l8.2 6.8l-8.2 6.8l-8.2 -6.8zM441.3 1179.7l8.2 6.8l-8.2 6.8l-8.2 -6.8zM442.2 1190.6l8.2 6.8l-8.2 6.8l-8.2 -6.8zM443.0 1202.6l8.2 6.8l-8.2 6.8l-8.2 -6.8zM443.8 1214.5l8.2 6.8l-8.2 6.8l-8.2 -6.8zM444.6 1226.8l8.2 6.8l-8.2 6.8l-8.2 -6.8zM445.5 1239.0l8.2 6.8l-8.2 6.8l-8.2 -6.8zM446.3 1250.9l8.2 6.8l-8.2 6.8l-8.2 -6.8zM447.1 1263.1l8.2 6.8l-8.2 6.8l-8.2 -6.8zM447.1 1262.7l8.2 6.8l-8.2 6.8l-8.2 -6.8zM448.0 1250.4l8.2 6.8l-8.2 6.8l-8.2 -6.8zM448.8 1238.2l8.2 6.8l-8.2 6.8l-8.2 -6.8zM449.6 1225.9l8.2 6.8l-8.2 6.8l-8.2 -6.8zM450.4 1213.7l8.2 6.8l-8.2 6.8l-8.2 -6.8zM451.3 1200.4l8.2 6.8l-8.2 6.8l-8.2 -6.8zM452.1 1187.2l8.2 6.8l-8.2 6.8l-8.2 -6.8zM452.9 1170.8l8.2 6.8l-8.2 6.8l-8.2 -6.8zM453.8 1154.5l8.2 6.8l-8.2 6.8l-8.2 -6.8zM454.6 1138.1l8.2 6.8l-8.2 6.8l-8.2 -6.8zM455.4 1121.8l8.2 6.8l-8.2 6.8l-8.2 -6.8zM456.2 1102.0l8.2 6.8l-8.2 6.8l-8.2 -6.8zM457.1 1082.2l8.2 6.8l-8.2 6.8l-8.2 -6.8zM457.6 1065.7l8.2 6.8l-8.2 6.8l-8.2 -6.8zM458.2 1049.2l8.2 6.8l-8.2 6.8l-8.2 -6.8zM458.7 1032.7l8.2 6.8l-8.2 6.8l-8.2 -6.8zM459.3 1019.1l8.2 6.8l-8.2 6.8l-8.2 -6.8zM459.8 1005.5l8.2 6.8l-8.2 6.8l-8.2 -6.8zM460.4 992.0l8.2 6.8l-8.2 6.8l-8.2 -6.8zM461.2 975.4l8.2 6.8l-8.2 6.8l-8.2 -6.8zM462.0 958.9l8.2 6.8l-8.2 6.8l-8.2 -6.8zM463.7 939.8l8.2 6.8l-8.2 6.8l-8.2 -6.8zM465.4 927.7l8.2 6.8l-8.2 6.8l-8.2 -6.8zM466.0 923.0l8.2 6.8l-8.2 6.8l-8.2 -6.8zM467.0 934.8l8.2 6.8l-8.2 6.8l-8.2 -6.8zM468.7 954.2l8.2 6.8l-8.2 6.8l-8.2 -6.8zM470.3 972.7l8.2 6.8l-8.2 6.8l-8.2 -6.8zM472.0 989.4l8.2 6.8l-8.2 6.8l-8.2 -6.8zM473.6 1006.1l8.2 6.8l-8.2 6.8l-8.2 -6.8zM475.3 1022.7l8.2 6.8l-8.2 6.8l-8.2 -6.8zM477.0 1039.1l8.2 6.8l-8.2 6.8l-8.2 -6.8zM478.6 1055.5l8.2 6.8l-8.2 6.8l-8.2 -6.8zM480.3 1070.5l8.2 6.8l-8.2 6.8l-8.2 -6.8zM481.9 1083.1l8.2 6.8l-8.2 6.8l-8.2 -6.8zM483.6 1095.6l8.2 6.8l-8.2 6.8l-8.2 -6.8zM485.2 1104.8l8.2 6.8l-8.2 6.8l-8.2 -6.8zM486.9 1108.7l8.2 6.8l-8.2 6.8l-8.2 -6.8zM488.6 1112.5l8.2 6.8l-8.2 6.8l-8.2 -6.8zM490.2 1116.4l8.2 6.8l-8.2 6.8l-8.2 -6.8zM491.9 1120.3l8.2 6.8l-8.2 6.8l-8.2 -6.8zM493.5 1121.4l8.2 6.8l-8.2 6.8l-8.2 -6.8zM495.2 1122.2l8.2 6.8l-8.2 6.8l-8.2 -6.8zM496.8 1123.0l8.2 6.8l-8.2 6.8l-8.2 -6.8zM498.5 1123.9l8.2 6.8l-8.2 6.8l-8.2 -6.8zM500.2 1124.7l8.2 6.8l-8.2 6.8l-8.2 -6.8zM501.8 1125.6l8.2 6.8l-8.2 6.8l-8.2 -6.8zM503.5 1131.4l8.2 6.8l-8.2 6.8l-8.2 -6.8zM505.1 1137.5l8.2 6.8l-8.2 6.8l-8.2 -6.8zM506.8 1143.5l8.2 6.8l-8.2 6.8l-8.2 -6.8zM508.4 1149.6l8.2 6.8l-8.2 6.8l-8.2 -6.8zM510.1 1155.5l8.2 6.8l-8.2 6.8l-8.2 -6.8zM511.8 1161.0l8.2 6.8l-8.2 6.8l-8.2 -6.8zM513.4 1166.5l8.2 6.8l-8.2 6.8l-8.2 -6.8zM515.1 1172.0l8.2 6.8l-8.2 6.8l-8.2 -6.8zM516.7 1177.6l8.2 6.8l-8.2 6.8l-8.2 -6.8zM518.4 1184.2l8.2 6.8l-8.2 6.8l-8.2 -6.8zM520.0 1190.7l8.2 6.8l-8.2 6.8l-8.2 -6.8zM521.7 1197.3l8.2 6.8l-8.2 6.8l-8.2 -6.8zM523.4 1203.8l8.2 6.8l-8.2 6.8l-8.2 -6.8zM525.0 1208.1l8.2 6.8l-8.2 6.8l-8.2 -6.8zM526.7 1210.0l8.2 6.8l-8.2 6.8l-8.2 -6.8zM528.3 1211.9l8.2 6.8l-8.2 6.8l-8.2 -6.8zM530.0 1213.8l8.2 6.8l-8.2 6.8l-8.2 -6.8zM531.6 1215.7l8.2 6.8l-8.2 6.8l-8.2 -6.8zM533.3 1217.6l8.2 6.8l-8.2 6.8l-8.2 -6.8zM534.9 1219.4l8.2 6.8l-8.2 6.8l-8.2 -6.8zM536.6 1221.3l8.2 6.8l-8.2 6.8l-8.2 -6.8zM538.3 1223.2l8.2 6.8l-8.2 6.8l-8.2 -6.8zM539.9 1225.1l8.2 6.8l-8.2 6.8l-8.2 -6.8zM541.5 1226.9l8.2 6.8l-8.2 6.8l-8.2 -6.8zM541.6 1226.7l8.2 6.8l-8.2 6.8l-8.2 -6.8zM543.2 1222.6l8.2 6.8l-8.2 6.8l-8.2 -6.8zM544.9 1218.4l8.2 6.8l-8.2 6.8l-8.2 -6.8zM546.5 1214.3l8.2 6.8l-8.2 6.8l-8.2 -6.8zM548.2 1210.2l8.2 6.8l-8.2 6.8l-8.2 -6.8zM549.9 1206.0l8.2 6.8l-8.2 6.8l-8.2 -6.8zM551.5 1201.3l8.2 6.8l-8.2 6.8l-8.2 -6.8zM553.2 1188.8l8.2 6.8l-8.2 6.8l-8.2 -6.8zM554.8 1176.3l8.2 6.8l-8.2 6.8l-8.2 -6.8zM556.5 1163.8l8.2 6.8l-8.2 6.8l-8.2 -6.8zM558.1 1151.2l8.2 6.8l-8.2 6.8l-8.2 -6.8zM559.8 1138.7l8.2 6.8l-8.2 6.8l-8.2 -6.8zM561.5 1127.6l8.2 6.8l-8.2 6.8l-8.2 -6.8zM563.1 1124.3l8.2 6.8l-8.2 6.8l-8.2 -6.8zM564.8 1120.9l8.2 6.8l-8.2 6.8l-8.2 -6.8zM566.4 1117.6l8.2 6.8l-8.2 6.8l-8.2 -6.8zM568.1 1114.3l8.2 6.8l-8.2 6.8l-8.2 -6.8zM569.7 1111.0l8.2 6.8l-8.2 6.8l-8.2 -6.8zM571.4 1107.7l8.2 6.8l-8.2 6.8l-8.2 -6.8zM573.1 1104.4l8.2 6.8l-8.2 6.8l-8.2 -6.8zM574.7 1097.7l8.2 6.8l-8.2 6.8l-8.2 -6.8zM576.4 1089.4l8.2 6.8l-8.2 6.8l-8.2 -6.8zM578.0 1081.1l8.2 6.8l-8.2 6.8l-8.2 -6.8zM579.7 1072.8l8.2 6.8l-8.2 6.8l-8.2 -6.8zM581.3 1064.5l8.2 6.8l-8.2 6.8l-8.2 -6.8zM583.0 1056.2l8.2 6.8l-8.2 6.8l-8.2 -6.8zM584.7 1047.9l8.2 6.8l-8.2 6.8l-8.2 -6.8zM586.3 1039.6l8.2 6.8l-8.2 6.8l-8.2 -6.8zM588.0 1031.3l8.2 6.8l-8.2 6.8l-8.2 -6.8zM589.6 1025.2l8.2 6.8l-8.2 6.8l-8.2 -6.8zM591.3 1019.8l8.2 6.8l-8.2 6.8l-8.2 -6.8zM592.9 1014.4l8.2 6.8l-8.2 6.8l-8.2 -6.8zM594.6 1009.0l8.2 6.8l-8.2 6.8l-8.2 -6.8zM596.3 1003.6l8.2 6.8l-8.2 6.8l-8.2 -6.8zM597.9 998.2l8.2 6.8l-8.2 6.8l-8.2 -6.8zM599.6 994.9l8.2 6.8l-8.2 6.8l-8.2 -6.8zM601.2 992.1l8.2 6.8l-8.2 6.8l-8.2 -6.8zM602.9 989.4l8.2 6.8l-8.2 6.8l-8.2 -6.8zM604.5 986.6l8.2 6.8l-8.2 6.8l-8.2 -6.8zM605.7 984.7l8.2 6.8l-8.2 6.8l-8.2 -6.8zM606.2 987.9l8.2 6.8l-8.2 6.8l-8.2 -6.8zM607.9 998.6l8.2 6.8l-8.2 6.8l-8.2 -6.8zM609.5 1009.2l8.2 6.8l-8.2 6.8l-8.2 -6.8zM611.2 1021.6l8.2 6.8l-8.2 6.8l-8.2 -6.8zM612.8 1038.3l8.2 6.8l-8.2 6.8l-8.2 -6.8zM614.5 1055.0l8.2 6.8l-8.2 6.8l-8.2 -6.8zM616.1 1071.6l8.2 6.8l-8.2 6.8l-8.2 -6.8zM617.8 1088.0l8.2 6.8l-8.2 6.8l-8.2 -6.8zM619.5 1104.4l8.2 6.8l-8.2 6.8l-8.2 -6.8zM621.1 1120.6l8.2 6.8l-8.2 6.8l-8.2 -6.8zM622.8 1136.5l8.2 6.8l-8.2 6.8l-8.2 -6.8zM624.4 1152.4l8.2 6.8l-8.2 6.8l-8.2 -6.8zM625.5 1162.7l8.2 6.8l-8.2 6.8l-8.2 -6.8zM626.1 1159.0l8.2 6.8l-8.2 6.8l-8.2 -6.8zM627.7 1148.5l8.2 6.8l-8.2 6.8l-8.2 -6.8zM629.4 1137.9l8.2 6.8l-8.2 6.8l-8.2 -6.8zM631.1 1127.4l8.2 6.8l-8.2 6.8l-8.2 -6.8zM632.7 1116.9l8.2 6.8l-8.2 6.8l-8.2 -6.8zM634.4 1104.8l8.2 6.8l-8.2 6.8l-8.2 -6.8zM636.0 1092.5l8.2 6.8l-8.2 6.8l-8.2 -6.8zM637.7 1080.2l8.2 6.8l-8.2 6.8l-8.2 -6.8zM639.3 1073.9l8.2 6.8l-8.2 6.8l-8.2 -6.8zM641.0 1068.4l8.2 6.8l-8.2 6.8l-8.2 -6.8zM642.7 1063.0l8.2 6.8l-8.2 6.8l-8.2 -6.8zM643.5 1060.2l8.2 6.8l-8.2 6.8l-8.2 -6.8zM644.3 1063.7l8.2 6.8l-8.2 6.8l-8.2 -6.8zM646.0 1070.9l8.2 6.8l-8.2 6.8l-8.2 -6.8zM647.6 1078.1l8.2 6.8l-8.2 6.8l-8.2 -6.8zM649.3 1085.3l8.2 6.8l-8.2 6.8l-8.2 -6.8zM650.9 1092.4l8.2 6.8l-8.2 6.8l-8.2 -6.8zM652.6 1099.6l8.2 6.8l-8.2 6.8l-8.2 -6.8zM654.3 1108.5l8.2 6.8l-8.2 6.8l-8.2 -6.8zM655.9 1118.9l8.2 6.8l-8.2 6.8l-8.2 -6.8zM657.6 1129.3l8.2 6.8l-8.2 6.8l-8.2 -6.8zM659.2 1139.7l8.2 6.8l-8.2 6.8l-8.2 -6.8zM660.9 1150.0l8.2 6.8l-8.2 6.8l-8.2 -6.8zM662.5 1160.2l8.2 6.8l-8.2 6.8l-8.2 -6.8zM662.5 1160.0l8.2 6.8l-8.2 6.8l-8.2 -6.8zM664.2 1149.6l8.2 6.8l-8.2 6.8l-8.2 -6.8zM665.9 1139.2l8.2 6.8l-8.2 6.8l-8.2 -6.8zM667.5 1128.8l8.2 6.8l-8.2 6.8l-8.2 -6.8zM669.2 1118.4l8.2 6.8l-8.2 6.8l-8.2 -6.8zM670.8 1108.0l8.2 6.8l-8.2 6.8l-8.2 -6.8zM672.5 1098.7l8.2 6.8l-8.2 6.8l-8.2 -6.8zM674.1 1090.4l8.2 6.8l-8.2 6.8l-8.2 -6.8zM675.8 1082.1l8.2 6.8l-8.2 6.8l-8.2 -6.8zM677.5 1073.8l8.2 6.8l-8.2 6.8l-8.2 -6.8zM679.1 1065.6l8.2 6.8l-8.2 6.8l-8.2 -6.8zM680.8 1057.8l8.2 6.8l-8.2 6.8l-8.2 -6.8zM682.4 1050.2l8.2 6.8l-8.2 6.8l-8.2 -6.8zM684.1 1042.6l8.2 6.8l-8.2 6.8l-8.2 -6.8zM684.5 1040.7l8.2 6.8l-8.2 6.8l-8.2 -6.8zM685.7 1052.5l8.2 6.8l-8.2 6.8l-8.2 -6.8zM687.4 1068.2l8.2 6.8l-8.2 6.8l-8.2 -6.8zM689.1 1083.9l8.2 6.8l-8.2 6.8l-8.2 -6.8zM690.7 1098.6l8.2 6.8l-8.2 6.8l-8.2 -6.8zM692.4 1112.7l8.2 6.8l-8.2 6.8l-8.2 -6.8zM694.0 1126.8l8.2 6.8l-8.2 6.8l-8.2 -6.8zM695.7 1139.3l8.2 6.8l-8.2 6.8l-8.2 -6.8zM697.3 1150.0l8.2 6.8l-8.2 6.8l-8.2 -6.8zM699.0 1160.8l8.2 6.8l-8.2 6.8l-8.2 -6.8zM700.7 1169.5l8.2 6.8l-8.2 6.8l-8.2 -6.8zM702.3 1174.2l8.2 6.8l-8.2 6.8l-8.2 -6.8zM704.0 1178.8l8.2 6.8l-8.2 6.8l-8.2 -6.8zM705.6 1183.5l8.2 6.8l-8.2 6.8l-8.2 -6.8zM706.6 1186.2l8.2 6.8l-8.2 6.8l-8.2 -6.8zM707.3 1185.0l8.2 6.8l-8.2 6.8l-8.2 -6.8zM708.9 1182.0l8.2 6.8l-8.2 6.8l-8.2 -6.8zM710.6 1178.9l8.2 6.8l-8.2 6.8l-8.2 -6.8zM712.2 1175.9l8.2 6.8l-8.2 6.8l-8.2 -6.8zM713.9 1172.9l8.2 6.8l-8.2 6.8l-8.2 -6.8zM715.6 1169.9l8.2 6.8l-8.2 6.8l-8.2 -6.8zM717.2 1166.9l8.2 6.8l-8.2 6.8l-8.2 -6.8zM718.9 1163.9l8.2 6.8l-8.2 6.8l-8.2 -6.8zM720.5 1160.9l8.2 6.8l-8.2 6.8l-8.2 -6.8zM720.9 1160.2l8.2 6.8l-8.2 6.8l-8.2 -6.8zM722.2 1160.4l8.2 6.8l-8.2 6.8l-8.2 -6.8zM723.8 1160.6l8.2 6.8l-8.2 6.8l-8.2 -6.8zM725.5 1160.9l8.2 6.8l-8.2 6.8l-8.2 -6.8zM727.2 1161.1l8.2 6.8l-8.2 6.8l-8.2 -6.8zM728.8 1161.3l8.2 6.8l-8.2 6.8l-8.2 -6.8zM730.5 1161.6l8.2 6.8l-8.2 6.8l-8.2 -6.8zM732.1 1161.8l8.2 6.8l-8.2 6.8l-8.2 -6.8zM733.8 1162.0l8.2 6.8l-8.2 6.8l-8.2 -6.8zM735.4 1162.3l8.2 6.8l-8.2 6.8l-8.2 -6.8zM737.1 1162.5l8.2 6.8l-8.2 6.8l-8.2 -6.8zM738.8 1162.8l8.2 6.8l-8.2 6.8l-8.2 -6.8zM740.4 1163.6l8.2 6.8l-8.2 6.8l-8.2 -6.8zM742.1 1164.7l8.2 6.8l-8.2 6.8l-8.2 -6.8zM743.7 1165.8l8.2 6.8l-8.2 6.8l-8.2 -6.8zM745.4 1166.8l8.2 6.8l-8.2 6.8l-8.2 -6.8zM746.2 1177.4l8.2 6.8l-8.2 6.8l-8.2 -6.8zM747.0 1188.0l8.2 6.8l-8.2 6.8l-8.2 -6.8zM747.9 1203.6l8.2 6.8l-8.2 6.8l-8.2 -6.8zM748.7 1219.2l8.2 6.8l-8.2 6.8l-8.2 -6.8zM749.5 1233.5l8.2 6.8l-8.2 6.8l-8.2 -6.8zM750.4 1247.8l8.2 6.8l-8.2 6.8l-8.2 -6.8zM751.2 1260.0l8.2 6.8l-8.2 6.8l-8.2 -6.8zM752.0 1272.1l8.2 6.8l-8.2 6.8l-8.2 -6.8zM752.8 1282.9l8.2 6.8l-8.2 6.8l-8.2 -6.8zM753.7 1293.7l8.2 6.8l-8.2 6.8l-8.2 -6.8zM755.3 1313.5l8.2 6.8l-8.2 6.8l-8.2 -6.8zM757.0 1326.4l8.2 6.8l-8.2 6.8l-8.2 -6.8zM758.6 1339.3l8.2 6.8l-8.2 6.8l-8.2 -6.8zM760.3 1351.2l8.2 6.8l-8.2 6.8l-8.2 -6.8zM762.0 1358.8l8.2 6.8l-8.2 6.8l-8.2 -6.8zM763.6 1366.4l8.2 6.8l-8.2 6.8l-8.2 -6.8zM765.1 1373.2l8.2 6.8l-8.2 6.8l-8.2 -6.8zM765.3 1371.8l8.2 6.8l-8.2 6.8l-8.2 -6.8zM766.9 1358.6l8.2 6.8l-8.2 6.8l-8.2 -6.8zM768.6 1345.3l8.2 6.8l-8.2 6.8l-8.2 -6.8zM770.2 1332.1l8.2 6.8l-8.2 6.8l-8.2 -6.8zM771.9 1318.9l8.2 6.8l-8.2 6.8l-8.2 -6.8zM773.6 1304.3l8.2 6.8l-8.2 6.8l-8.2 -6.8zM775.2 1287.7l8.2 6.8l-8.2 6.8l-8.2 -6.8zM776.9 1271.2l8.2 6.8l-8.2 6.8l-8.2 -6.8zM778.5 1254.5l8.2 6.8l-8.2 6.8l-8.2 -6.8zM780.2 1237.7l8.2 6.8l-8.2 6.8l-8.2 -6.8zM781.8 1220.8l8.2 6.8l-8.2 6.8l-8.2 -6.8zM783.5 1204.0l8.2 6.8l-8.2 6.8l-8.2 -6.8zM785.2 1187.4l8.2 6.8l-8.2 6.8l-8.2 -6.8zM786.8 1170.9l8.2 6.8l-8.2 6.8l-8.2 -6.8zM788.5 1154.5l8.2 6.8l-8.2 6.8l-8.2 -6.8zM790.1 1143.5l8.2 6.8l-8.2 6.8l-8.2 -6.8zM791.8 1132.5l8.2 6.8l-8.2 6.8l-8.2 -6.8zM793.4 1121.5l8.2 6.8l-8.2 6.8l-8.2 -6.8zM795.1 1110.4l8.2 6.8l-8.2 6.8l-8.2 -6.8zM796.8 1098.4l8.2 6.8l-8.2 6.8l-8.2 -6.8zM798.4 1084.5l8.2 6.8l-8.2 6.8l-8.2 -6.8zM800.1 1070.6l8.2 6.8l-8.2 6.8l-8.2 -6.8zM801.7 1056.7l8.2 6.8l-8.2 6.8l-8.2 -6.8zM802.7 1048.5l8.2 6.8l-8.2 6.8l-8.2 -6.8zM803.4 1058.1l8.2 6.8l-8.2 6.8l-8.2 -6.8zM804.2 1069.7l8.2 6.8l-8.2 6.8l-8.2 -6.8zM805.0 1081.3l8.2 6.8l-8.2 6.8l-8.2 -6.8zM805.9 1092.7l8.2 6.8l-8.2 6.8l-8.2 -6.8zM806.7 1104.1l8.2 6.8l-8.2 6.8l-8.2 -6.8zM808.4 1120.6l8.2 6.8l-8.2 6.8l-8.2 -6.8zM810.0 1137.2l8.2 6.8l-8.2 6.8l-8.2 -6.8zM811.7 1153.7l8.2 6.8l-8.2 6.8l-8.2 -6.8zM812.5 1165.8l8.2 6.8l-8.2 6.8l-8.2 -6.8zM813.3 1177.9l8.2 6.8l-8.2 6.8l-8.2 -6.8zM814.2 1190.3l8.2 6.8l-8.2 6.8l-8.2 -6.8zM815.0 1202.7l8.2 6.8l-8.2 6.8l-8.2 -6.8zM815.8 1215.1l8.2 6.8l-8.2 6.8l-8.2 -6.8zM816.6 1227.5l8.2 6.8l-8.2 6.8l-8.2 -6.8zM817.5 1243.2l8.2 6.8l-8.2 6.8l-8.2 -6.8zM818.3 1258.8l8.2 6.8l-8.2 6.8l-8.2 -6.8zM819.1 1277.0l8.2 6.8l-8.2 6.8l-8.2 -6.8zM820.0 1295.1l8.2 6.8l-8.2 6.8l-8.2 -6.8zM820.8 1306.7l8.2 6.8l-8.2 6.8l-8.2 -6.8zM821.0 1325.2l8.2 6.8l-8.2 6.8l-8.2 -6.8zM821.6 1318.4l8.2 6.8l-8.2 6.8l-8.2 -6.8zM823.3 1299.8l8.2 6.8l-8.2 6.8l-8.2 -6.8zM824.9 1281.2l8.2 6.8l-8.2 6.8l-8.2 -6.8zM826.6 1262.6l8.2 6.8l-8.2 6.8l-8.2 -6.8zM827.4 1251.5l8.2 6.8l-8.2 6.8l-8.2 -6.8zM828.2 1240.4l8.2 6.8l-8.2 6.8l-8.2 -6.8zM829.1 1227.8l8.2 6.8l-8.2 6.8l-8.2 -6.8zM829.9 1215.3l8.2 6.8l-8.2 6.8l-8.2 -6.8zM830.7 1202.7l8.2 6.8l-8.2 6.8l-8.2 -6.8zM831.6 1190.2l8.2 6.8l-8.2 6.8l-8.2 -6.8zM832.4 1170.3l8.2 6.8l-8.2 6.8l-8.2 -6.8zM833.2 1150.4l8.2 6.8l-8.2 6.8l-8.2 -6.8zM833.8 1134.3l8.2 6.8l-8.2 6.8l-8.2 -6.8zM834.3 1118.2l8.2 6.8l-8.2 6.8l-8.2 -6.8zM834.9 1102.1l8.2 6.8l-8.2 6.8l-8.2 -6.8zM835.4 1088.4l8.2 6.8l-8.2 6.8l-8.2 -6.8zM836.0 1074.8l8.2 6.8l-8.2 6.8l-8.2 -6.8zM836.5 1061.1l8.2 6.8l-8.2 6.8l-8.2 -6.8zM837.4 1046.2l8.2 6.8l-8.2 6.8l-8.2 -6.8zM838.2 1031.3l8.2 6.8l-8.2 6.8l-8.2 -6.8zM839.0 1020.2l8.2 6.8l-8.2 6.8l-8.2 -6.8zM839.8 1009.2l8.2 6.8l-8.2 6.8l-8.2 -6.8zM841.5 991.0l8.2 6.8l-8.2 6.8l-8.2 -6.8zM843.2 980.0l8.2 6.8l-8.2 6.8l-8.2 -6.8zM844.6 970.3l8.2 6.8l-8.2 6.8l-8.2 -6.8zM844.8 972.9l8.2 6.8l-8.2 6.8l-8.2 -6.8zM845.6 983.1l8.2 6.8l-8.2 6.8l-8.2 -6.8zM846.5 993.4l8.2 6.8l-8.2 6.8l-8.2 -6.8zM847.3 1003.6l8.2 6.8l-8.2 6.8l-8.2 -6.8zM848.1 1013.8l8.2 6.8l-8.2 6.8l-8.2 -6.8zM849.0 1024.1l8.2 6.8l-8.2 6.8l-8.2 -6.8zM849.8 1034.4l8.2 6.8l-8.2 6.8l-8.2 -6.8zM850.6 1044.8l8.2 6.8l-8.2 6.8l-8.2 -6.8zM851.4 1055.3l8.2 6.8l-8.2 6.8l-8.2 -6.8zM852.3 1065.7l8.2 6.8l-8.2 6.8l-8.2 -6.8zM853.1 1076.2l8.2 6.8l-8.2 6.8l-8.2 -6.8zM853.9 1086.3l8.2 6.8l-8.2 6.8l-8.2 -6.8zM854.8 1096.4l8.2 6.8l-8.2 6.8l-8.2 -6.8zM856.4 1113.1l8.2 6.8l-8.2 6.8l-8.2 -6.8zM858.1 1129.8l8.2 6.8l-8.2 6.8l-8.2 -6.8zM859.7 1148.1l8.2 6.8l-8.2 6.8l-8.2 -6.8zM860.6 1160.4l8.2 6.8l-8.2 6.8l-8.2 -6.8zM861.4 1172.7l8.2 6.8l-8.2 6.8l-8.2 -6.8zM862.2 1188.4l8.2 6.8l-8.2 6.8l-8.2 -6.8zM863.0 1204.2l8.2 6.8l-8.2 6.8l-8.2 -6.8zM863.2 1207.6l8.2 6.8l-8.2 6.8l-8.2 -6.8zM864.7 1200.7l8.2 6.8l-8.2 6.8l-8.2 -6.8zM866.4 1193.1l8.2 6.8l-8.2 6.8l-8.2 -6.8zM868.0 1185.5l8.2 6.8l-8.2 6.8l-8.2 -6.8zM869.7 1177.9l8.2 6.8l-8.2 6.8l-8.2 -6.8zM871.3 1170.3l8.2 6.8l-8.2 6.8l-8.2 -6.8zM873.0 1162.2l8.2 6.8l-8.2 6.8l-8.2 -6.8zM874.6 1153.9l8.2 6.8l-8.2 6.8l-8.2 -6.8zM876.3 1145.6l8.2 6.8l-8.2 6.8l-8.2 -6.8zM877.9 1137.3l8.2 6.8l-8.2 6.8l-8.2 -6.8zM879.6 1129.0l8.2 6.8l-8.2 6.8l-8.2 -6.8zM881.3 1120.8l8.2 6.8l-8.2 6.8l-8.2 -6.8zM882.9 1112.5l8.2 6.8l-8.2 6.8l-8.2 -6.8zM884.6 1106.2l8.2 6.8l-8.2 6.8l-8.2 -6.8zM886.2 1106.2l8.2 6.8l-8.2 6.8l-8.2 -6.8zM887.9 1106.2l8.2 6.8l-8.2 6.8l-8.2 -6.8zM889.5 1106.2l8.2 6.8l-8.2 6.8l-8.2 -6.8zM891.2 1106.2l8.2 6.8l-8.2 6.8l-8.2 -6.8zM892.9 1106.2l8.2 6.8l-8.2 6.8l-8.2 -6.8zM894.5 1106.2l8.2 6.8l-8.2 6.8l-8.2 -6.8zM896.2 1106.2l8.2 6.8l-8.2 6.8l-8.2 -6.8zM897.8 1106.2l8.2 6.8l-8.2 6.8l-8.2 -6.8zM899.5 1106.2l8.2 6.8l-8.2 6.8l-8.2 -6.8zM901.1 1106.2l8.2 6.8l-8.2 6.8l-8.2 -6.8zM902.8 1093.1l8.2 6.8l-8.2 6.8l-8.2 -6.8zM904.5 1076.3l8.2 6.8l-8.2 6.8l-8.2 -6.8zM906.1 1059.6l8.2 6.8l-8.2 6.8l-8.2 -6.8zM907.8 1046.6l8.2 6.8l-8.2 6.8l-8.2 -6.8zM909.4 1034.3l8.2 6.8l-8.2 6.8l-8.2 -6.8zM911.1 1022.0l8.2 6.8l-8.2 6.8l-8.2 -6.8zM912.7 1013.9l8.2 6.8l-8.2 6.8l-8.2 -6.8zM914.4 1006.7l8.2 6.8l-8.2 6.8l-8.2 -6.8zM916.1 999.6l8.2 6.8l-8.2 6.8l-8.2 -6.8zM917.7 992.4l8.2 6.8l-8.2 6.8l-8.2 -6.8zM919.4 985.3l8.2 6.8l-8.2 6.8l-8.2 -6.8zM920.0 982.6l8.2 6.8l-8.2 6.8l-8.2 -6.8zM921.0 990.8l8.2 6.8l-8.2 6.8l-8.2 -6.8zM922.7 1004.1l8.2 6.8l-8.2 6.8l-8.2 -6.8zM924.3 1017.3l8.2 6.8l-8.2 6.8l-8.2 -6.8zM926.0 1030.5l8.2 6.8l-8.2 6.8l-8.2 -6.8zM927.7 1046.8l8.2 6.8l-8.2 6.8l-8.2 -6.8zM929.3 1063.5l8.2 6.8l-8.2 6.8l-8.2 -6.8zM931.0 1080.2l8.2 6.8l-8.2 6.8l-8.2 -6.8zM931.8 1096.0l8.2 6.8l-8.2 6.8l-8.2 -6.8zM932.6 1111.8l8.2 6.8l-8.2 6.8l-8.2 -6.8zM933.5 1128.2l8.2 6.8l-8.2 6.8l-8.2 -6.8zM934.3 1144.6l8.2 6.8l-8.2 6.8l-8.2 -6.8zM935.1 1160.9l8.2 6.8l-8.2 6.8l-8.2 -6.8zM935.9 1177.3l8.2 6.8l-8.2 6.8l-8.2 -6.8zM936.8 1193.7l8.2 6.8l-8.2 6.8l-8.2 -6.8zM937.6 1210.1l8.2 6.8l-8.2 6.8l-8.2 -6.8zM938.4 1224.4l8.2 6.8l-8.2 6.8l-8.2 -6.8zM939.3 1238.7l8.2 6.8l-8.2 6.8l-8.2 -6.8zM940.1 1249.7l8.2 6.8l-8.2 6.8l-8.2 -6.8zM940.9 1260.8l8.2 6.8l-8.2 6.8l-8.2 -6.8zM942.3 1279.3l8.2 6.8l-8.2 6.8l-8.2 -6.8zM942.6 1276.0l8.2 6.8l-8.2 6.8l-8.2 -6.8zM943.4 1265.9l8.2 6.8l-8.2 6.8l-8.2 -6.8zM944.2 1255.8l8.2 6.8l-8.2 6.8l-8.2 -6.8zM945.1 1245.8l8.2 6.8l-8.2 6.8l-8.2 -6.8zM945.9 1235.7l8.2 6.8l-8.2 6.8l-8.2 -6.8zM946.7 1225.6l8.2 6.8l-8.2 6.8l-8.2 -6.8zM947.5 1215.5l8.2 6.8l-8.2 6.8l-8.2 -6.8zM948.4 1205.4l8.2 6.8l-8.2 6.8l-8.2 -6.8zM949.2 1195.2l8.2 6.8l-8.2 6.8l-8.2 -6.8zM950.0 1185.0l8.2 6.8l-8.2 6.8l-8.2 -6.8zM950.9 1174.7l8.2 6.8l-8.2 6.8l-8.2 -6.8zM951.7 1164.5l8.2 6.8l-8.2 6.8l-8.2 -6.8zM952.5 1154.3l8.2 6.8l-8.2 6.8l-8.2 -6.8zM954.2 1135.5l8.2 6.8l-8.2 6.8l-8.2 -6.8zM955.8 1118.8l8.2 6.8l-8.2 6.8l-8.2 -6.8zM957.5 1102.1l8.2 6.8l-8.2 6.8l-8.2 -6.8zM959.1 1087.1l8.2 6.8l-8.2 6.8l-8.2 -6.8zM960.8 1073.8l8.2 6.8l-8.2 6.8l-8.2 -6.8zM962.0 1064.2l8.2 6.8l-8.2 6.8l-8.2 -6.8zM962.5 1067.3l8.2 6.8l-8.2 6.8l-8.2 -6.8zM964.1 1078.5l8.2 6.8l-8.2 6.8l-8.2 -6.8zM965.8 1089.7l8.2 6.8l-8.2 6.8l-8.2 -6.8zM967.4 1101.0l8.2 6.8l-8.2 6.8l-8.2 -6.8zM969.1 1115.0l8.2 6.8l-8.2 6.8l-8.2 -6.8zM970.7 1131.4l8.2 6.8l-8.2 6.8l-8.2 -6.8zM972.4 1147.8l8.2 6.8l-8.2 6.8l-8.2 -6.8zM974.1 1162.2l8.2 6.8l-8.2 6.8l-8.2 -6.8zM975.7 1174.7l8.2 6.8l-8.2 6.8l-8.2 -6.8zM977.4 1187.3l8.2 6.8l-8.2 6.8l-8.2 -6.8zM979.0 1196.5l8.2 6.8l-8.2 6.8l-8.2 -6.8zM980.7 1203.0l8.2 6.8l-8.2 6.8l-8.2 -6.8zM982.3 1209.6l8.2 6.8l-8.2 6.8l-8.2 -6.8zM984.0 1213.5l8.2 6.8l-8.2 6.8l-8.2 -6.8zM985.7 1215.1l8.2 6.8l-8.2 6.8l-8.2 -6.8zM987.3 1216.8l8.2 6.8l-8.2 6.8l-8.2 -6.8zM989.0 1218.4l8.2 6.8l-8.2 6.8l-8.2 -6.8zM990.6 1220.1l8.2 6.8l-8.2 6.8l-8.2 -6.8zM992.3 1221.7l8.2 6.8l-8.2 6.8l-8.2 -6.8zM993.9 1223.4l8.2 6.8l-8.2 6.8l-8.2 -6.8zM995.6 1225.0l8.2 6.8l-8.2 6.8l-8.2 -6.8zM997.3 1226.7l8.2 6.8l-8.2 6.8l-8.2 -6.8zM998.0 1227.4l8.2 6.8l-8.2 6.8l-8.2 -6.8zM998.9 1223.9l8.2 6.8l-8.2 6.8l-8.2 -6.8zM1000.6 1217.6l8.2 6.8l-8.2 6.8l-8.2 -6.8zM1002.2 1211.3l8.2 6.8l-8.2 6.8l-8.2 -6.8zM1003.9 1205.0l8.2 6.8l-8.2 6.8l-8.2 -6.8zM1005.5 1198.6l8.2 6.8l-8.2 6.8l-8.2 -6.8zM1007.2 1191.7l8.2 6.8l-8.2 6.8l-8.2 -6.8zM1008.9 1183.4l8.2 6.8l-8.2 6.8l-8.2 -6.8zM1010.5 1175.1l8.2 6.8l-8.2 6.8l-8.2 -6.8zM1012.2 1166.8l8.2 6.8l-8.2 6.8l-8.2 -6.8zM1013.8 1158.5l8.2 6.8l-8.2 6.8l-8.2 -6.8zM1015.5 1148.0l8.2 6.8l-8.2 6.8l-8.2 -6.8zM1017.1 1137.0l8.2 6.8l-8.2 6.8l-8.2 -6.8zM1018.8 1126.0l8.2 6.8l-8.2 6.8l-8.2 -6.8zM1020.5 1114.9l8.2 6.8l-8.2 6.8l-8.2 -6.8zM1022.1 1103.8l8.2 6.8l-8.2 6.8l-8.2 -6.8zM1023.8 1092.6l8.2 6.8l-8.2 6.8l-8.2 -6.8zM1025.4 1081.9l8.2 6.8l-8.2 6.8l-8.2 -6.8zM1027.1 1074.4l8.2 6.8l-8.2 6.8l-8.2 -6.8zM1028.7 1067.0l8.2 6.8l-8.2 6.8l-8.2 -6.8zM1030.4 1059.5l8.2 6.8l-8.2 6.8l-8.2 -6.8zM1032.1 1052.1l8.2 6.8l-8.2 6.8l-8.2 -6.8zM1033.7 1047.4l8.2 6.8l-8.2 6.8l-8.2 -6.8zM1035.4 1044.1l8.2 6.8l-8.2 6.8l-8.2 -6.8zM1037.0 1040.8l8.2 6.8l-8.2 6.8l-8.2 -6.8zM1038.7 1037.5l8.2 6.8l-8.2 6.8l-8.2 -6.8zM1040.3 1034.2l8.2 6.8l-8.2 6.8l-8.2 -6.8zM1041.0 1032.9l8.2 6.8l-8.2 6.8l-8.2 -6.8zM1042.0 1035.1l8.2 6.8l-8.2 6.8l-8.2 -6.8zM1043.6 1038.7l8.2 6.8l-8.2 6.8l-8.2 -6.8zM1044.6 1040.8l8.2 6.8l-8.2 6.8l-8.2 -6.8zM1045.6 1043.0l8.2 6.8l-8.2 6.8l-8.2 -6.8zM1046.6 1045.2l8.2 6.8l-8.2 6.8l-8.2 -6.8zM1047.6 1047.4l8.2 6.8l-8.2 6.8l-8.2 -6.8zM1048.6 1049.5l8.2 6.8l-8.2 6.8l-8.2 -6.8zM1049.6 1051.7l8.2 6.8l-8.2 6.8l-8.2 -6.8zM1050.6 1053.9l8.2 6.8l-8.2 6.8l-8.2 -6.8zM1051.6 1056.8l8.2 6.8l-8.2 6.8l-8.2 -6.8zM1052.6 1060.5l8.2 6.8l-8.2 6.8l-8.2 -6.8zM1053.6 1064.3l8.2 6.8l-8.2 6.8l-8.2 -6.8zM1054.6 1068.1l8.2 6.8l-8.2 6.8l-8.2 -6.8zM1055.6 1071.8l8.2 6.8l-8.2 6.8l-8.2 -6.8zM1056.6 1075.6l8.2 6.8l-8.2 6.8l-8.2 -6.8zM1057.6 1079.3l8.2 6.8l-8.2 6.8l-8.2 -6.8zM1058.6 1083.2l8.2 6.8l-8.2 6.8l-8.2 -6.8zM1059.6 1090.0l8.2 6.8l-8.2 6.8l-8.2 -6.8zM1060.6 1096.7l8.2 6.8l-8.2 6.8l-8.2 -6.8zM1061.6 1103.5l8.2 6.8l-8.2 6.8l-8.2 -6.8zM1062.6 1110.2l8.2 6.8l-8.2 6.8l-8.2 -6.8zM1063.6 1117.0l8.2 6.8l-8.2 6.8l-8.2 -6.8zM1064.6 1123.6l8.2 6.8l-8.2 6.8l-8.2 -6.8zM1065.6 1130.3l8.2 6.8l-8.2 6.8l-8.2 -6.8zM1066.6 1136.9l8.2 6.8l-8.2 6.8l-8.2 -6.8zM1067.6 1143.5l8.2 6.8l-8.2 6.8l-8.2 -6.8zM1068.6 1150.1l8.2 6.8l-8.2 6.8l-8.2 -6.8zM1069.6 1156.8l8.2 6.8l-8.2 6.8l-8.2 -6.8zM1070.6 1163.4l8.2 6.8l-8.2 6.8l-8.2 -6.8zM1071.6 1170.0l8.2 6.8l-8.2 6.8l-8.2 -6.8zM1072.6 1176.6l8.2 6.8l-8.2 6.8l-8.2 -6.8zM1073.6 1183.3l8.2 6.8l-8.2 6.8l-8.2 -6.8zM1074.6 1189.9l8.2 6.8l-8.2 6.8l-8.2 -6.8zM1075.6 1196.8l8.2 6.8l-8.2 6.8l-8.2 -6.8zM1076.6 1204.3l8.2 6.8l-8.2 6.8l-8.2 -6.8zM1077.6 1211.8l8.2 6.8l-8.2 6.8l-8.2 -6.8zM1078.6 1219.4l8.2 6.8l-8.2 6.8l-8.2 -6.8zM1079.0 1222.0l8.2 6.8l-8.2 6.8l-8.2 -6.8zM1079.6 1216.5l8.2 6.8l-8.2 6.8l-8.2 -6.8zM1081.3 1202.5l8.2 6.8l-8.2 6.8l-8.2 -6.8zM1083.0 1188.6l8.2 6.8l-8.2 6.8l-8.2 -6.8zM1084.6 1173.3l8.2 6.8l-8.2 6.8l-8.2 -6.8zM1085.4 1157.1l8.2 6.8l-8.2 6.8l-8.2 -6.8zM1086.3 1141.0l8.2 6.8l-8.2 6.8l-8.2 -6.8zM1087.1 1124.0l8.2 6.8l-8.2 6.8l-8.2 -6.8zM1087.9 1107.0l8.2 6.8l-8.2 6.8l-8.2 -6.8zM1089.6 1087.6l8.2 6.8l-8.2 6.8l-8.2 -6.8zM1091.2 1070.9l8.2 6.8l-8.2 6.8l-8.2 -6.8zM1092.9 1054.6l8.2 6.8l-8.2 6.8l-8.2 -6.8zM1094.6 1038.4l8.2 6.8l-8.2 6.8l-8.2 -6.8zM1096.2 1023.4l8.2 6.8l-8.2 6.8l-8.2 -6.8zM1097.9 1011.0l8.2 6.8l-8.2 6.8l-8.2 -6.8zM1099.5 998.4l8.2 6.8l-8.2 6.8l-8.2 -6.8zM1101.2 984.8l8.2 6.8l-8.2 6.8l-8.2 -6.8zM1102.1 977.3l8.2 6.8l-8.2 6.8l-8.2 -6.8zM1102.8 985.2l8.2 6.8l-8.2 6.8l-8.2 -6.8zM1104.5 1002.9l8.2 6.8l-8.2 6.8l-8.2 -6.8zM1106.2 1020.5l8.2 6.8l-8.2 6.8l-8.2 -6.8zM1107.8 1034.2l8.2 6.8l-8.2 6.8l-8.2 -6.8zM1109.5 1045.3l8.2 6.8l-8.2 6.8l-8.2 -6.8zM1111.1 1056.5l8.2 6.8l-8.2 6.8l-8.2 -6.8zM1112.8 1067.6l8.2 6.8l-8.2 6.8l-8.2 -6.8zM1114.4 1078.6l8.2 6.8l-8.2 6.8l-8.2 -6.8zM1116.1 1089.6l8.2 6.8l-8.2 6.8l-8.2 -6.8zM1117.8 1100.6l8.2 6.8l-8.2 6.8l-8.2 -6.8zM1119.4 1116.7l8.2 6.8l-8.2 6.8l-8.2 -6.8zM1121.1 1133.3l8.2 6.8l-8.2 6.8l-8.2 -6.8zM1121.6 1138.6l8.2 6.8l-8.2 6.8l-8.2 -6.8zM1122.7 1131.1l8.2 6.8l-8.2 6.8l-8.2 -6.8zM1124.4 1120.1l8.2 6.8l-8.2 6.8l-8.2 -6.8zM1126.0 1109.2l8.2 6.8l-8.2 6.8l-8.2 -6.8zM1127.7 1098.1l8.2 6.8l-8.2 6.8l-8.2 -6.8zM1129.4 1086.9l8.2 6.8l-8.2 6.8l-8.2 -6.8zM1131.0 1075.8l8.2 6.8l-8.2 6.8l-8.2 -6.8zM1132.7 1064.6l8.2 6.8l-8.2 6.8l-8.2 -6.8zM1134.3 1048.1l8.2 6.8l-8.2 6.8l-8.2 -6.8zM1136.0 1031.4l8.2 6.8l-8.2 6.8l-8.2 -6.8zM1137.6 1021.1l8.2 6.8l-8.2 6.8l-8.2 -6.8zM1139.3 1012.8l8.2 6.8l-8.2 6.8l-8.2 -6.8zM1140.1 1008.8l8.2 6.8l-8.2 6.8l-8.2 -6.8zM1141.0 1013.0l8.2 6.8l-8.2 6.8l-8.2 -6.8zM1142.6 1021.2l8.2 6.8l-8.2 6.8l-8.2 -6.8zM1144.3 1029.4l8.2 6.8l-8.2 6.8l-8.2 -6.8zM1145.9 1037.6l8.2 6.8l-8.2 6.8l-8.2 -6.8zM1147.6 1045.8l8.2 6.8l-8.2 6.8l-8.2 -6.8zM1149.2 1057.0l8.2 6.8l-8.2 6.8l-8.2 -6.8zM1150.9 1068.1l8.2 6.8l-8.2 6.8l-8.2 -6.8zM1152.6 1079.2l8.2 6.8l-8.2 6.8l-8.2 -6.8zM1154.2 1091.3l8.2 6.8l-8.2 6.8l-8.2 -6.8zM1155.9 1103.8l8.2 6.8l-8.2 6.8l-8.2 -6.8zM1157.5 1117.0l8.2 6.8l-8.2 6.8l-8.2 -6.8zM1159.2 1131.2l8.2 6.8l-8.2 6.8l-8.2 -6.8zM1159.6 1134.8l8.2 6.8l-8.2 6.8l-8.2 -6.8zM1160.8 1128.4l8.2 6.8l-8.2 6.8l-8.2 -6.8zM1162.5 1119.9l8.2 6.8l-8.2 6.8l-8.2 -6.8zM1164.2 1111.5l8.2 6.8l-8.2 6.8l-8.2 -6.8zM1165.8 1103.0l8.2 6.8l-8.2 6.8l-8.2 -6.8zM1167.5 1094.6l8.2 6.8l-8.2 6.8l-8.2 -6.8zM1169.1 1086.3l8.2 6.8l-8.2 6.8l-8.2 -6.8zM1170.8 1078.0l8.2 6.8l-8.2 6.8l-8.2 -6.8zM1172.4 1069.7l8.2 6.8l-8.2 6.8l-8.2 -6.8zM1174.1 1059.9l8.2 6.8l-8.2 6.8l-8.2 -6.8zM1175.8 1047.5l8.2 6.8l-8.2 6.8l-8.2 -6.8zM1177.4 1035.4l8.2 6.8l-8.2 6.8l-8.2 -6.8zM1179.1 1025.8l8.2 6.8l-8.2 6.8l-8.2 -6.8zM1180.7 1016.2l8.2 6.8l-8.2 6.8l-8.2 -6.8zM1181.5 1011.7l8.2 6.8l-8.2 6.8l-8.2 -6.8zM1182.4 1017.1l8.2 6.8l-8.2 6.8l-8.2 -6.8zM1184.0 1027.2l8.2 6.8l-8.2 6.8l-8.2 -6.8zM1185.7 1037.2l8.2 6.8l-8.2 6.8l-8.2 -6.8zM1187.4 1047.3l8.2 6.8l-8.2 6.8l-8.2 -6.8zM1189.0 1057.4l8.2 6.8l-8.2 6.8l-8.2 -6.8zM1190.7 1066.5l8.2 6.8l-8.2 6.8l-8.2 -6.8zM1192.3 1074.8l8.2 6.8l-8.2 6.8l-8.2 -6.8zM1194.0 1083.1l8.2 6.8l-8.2 6.8l-8.2 -6.8zM1195.6 1091.3l8.2 6.8l-8.2 6.8l-8.2 -6.8zM1197.3 1099.6l8.2 6.8l-8.2 6.8l-8.2 -6.8zM1199.0 1107.9l8.2 6.8l-8.2 6.8l-8.2 -6.8zM1200.6 1114.3l8.2 6.8l-8.2 6.8l-8.2 -6.8zM1202.3 1119.4l8.2 6.8l-8.2 6.8l-8.2 -6.8zM1203.9 1124.4l8.2 6.8l-8.2 6.8l-8.2 -6.8zM1205.6 1129.4l8.2 6.8l-8.2 6.8l-8.2 -6.8zM1207.2 1134.4l8.2 6.8l-8.2 6.8l-8.2 -6.8zM1208.9 1139.4l8.2 6.8l-8.2 6.8l-8.2 -6.8zM1210.6 1145.2l8.2 6.8l-8.2 6.8l-8.2 -6.8zM1212.2 1151.4l8.2 6.8l-8.2 6.8l-8.2 -6.8zM1213.9 1157.6l8.2 6.8l-8.2 6.8l-8.2 -6.8zM1215.5 1163.8l8.2 6.8l-8.2 6.8l-8.2 -6.8zM1217.2 1170.1l8.2 6.8l-8.2 6.8l-8.2 -6.8zM1218.8 1178.0l8.2 6.8l-8.2 6.8l-8.2 -6.8zM1220.5 1186.2l8.2 6.8l-8.2 6.8l-8.2 -6.8zM1222.2 1194.4l8.2 6.8l-8.2 6.8l-8.2 -6.8zM1223.8 1202.5l8.2 6.8l-8.2 6.8l-8.2 -6.8zM1225.5 1210.6l8.2 6.8l-8.2 6.8l-8.2 -6.8zM1227.1 1216.9l8.2 6.8l-8.2 6.8l-8.2 -6.8zM1228.8 1223.1l8.2 6.8l-8.2 6.8l-8.2 -6.8zM1230.4 1229.3l8.2 6.8l-8.2 6.8l-8.2 -6.8zM1232.1 1235.6l8.2 6.8l-8.2 6.8l-8.2 -6.8zM1233.8 1242.5l8.2 6.8l-8.2 6.8l-8.2 -6.8zM1235.4 1251.2l8.2 6.8l-8.2 6.8l-8.2 -6.8zM1237.1 1259.8l8.2 6.8l-8.2 6.8l-8.2 -6.8zM1238.2 1265.8l8.2 6.8l-8.2 6.8l-8.2 -6.8zM1238.7 1261.6l8.2 6.8l-8.2 6.8l-8.2 -6.8zM1240.4 1248.3l8.2 6.8l-8.2 6.8l-8.2 -6.8zM1242.0 1235.0l8.2 6.8l-8.2 6.8l-8.2 -6.8zM1243.7 1221.7l8.2 6.8l-8.2 6.8l-8.2 -6.8zM1245.3 1208.8l8.2 6.8l-8.2 6.8l-8.2 -6.8zM1247.0 1197.9l8.2 6.8l-8.2 6.8l-8.2 -6.8zM1248.7 1186.9l8.2 6.8l-8.2 6.8l-8.2 -6.8zM1250.3 1176.0l8.2 6.8l-8.2 6.8l-8.2 -6.8zM1252.0 1165.0l8.2 6.8l-8.2 6.8l-8.2 -6.8zM1253.6 1153.9l8.2 6.8l-8.2 6.8l-8.2 -6.8zM1255.3 1142.8l8.2 6.8l-8.2 6.8l-8.2 -6.8zM1256.9 1131.7l8.2 6.8l-8.2 6.8l-8.2 -6.8zM1258.6 1120.8l8.2 6.8l-8.2 6.8l-8.2 -6.8zM1260.3 1109.9l8.2 6.8l-8.2 6.8l-8.2 -6.8zM1260.9 1105.7l8.2 6.8l-8.2 6.8l-8.2 -6.8zM1261.9 1113.4l8.2 6.8l-8.2 6.8l-8.2 -6.8zM1263.6 1125.9l8.2 6.8l-8.2 6.8l-8.2 -6.8zM1265.2 1138.5l8.2 6.8l-8.2 6.8l-8.2 -6.8zM1266.9 1151.0l8.2 6.8l-8.2 6.8l-8.2 -6.8zM1268.5 1161.4l8.2 6.8l-8.2 6.8l-8.2 -6.8zM1270.2 1171.8l8.2 6.8l-8.2 6.8l-8.2 -6.8zM1271.9 1182.2l8.2 6.8l-8.2 6.8l-8.2 -6.8zM1273.5 1192.6l8.2 6.8l-8.2 6.8l-8.2 -6.8zM1275.2 1201.4l8.2 6.8l-8.2 6.8l-8.2 -6.8zM1276.8 1205.0l8.2 6.8l-8.2 6.8l-8.2 -6.8zM1278.5 1208.5l8.2 6.8l-8.2 6.8l-8.2 -6.8zM1280.1 1212.1l8.2 6.8l-8.2 6.8l-8.2 -6.8zM1281.8 1215.6l8.2 6.8l-8.2 6.8l-8.2 -6.8zM1283.5 1219.2l8.2 6.8l-8.2 6.8l-8.2 -6.8zM1285.1 1222.7l8.2 6.8l-8.2 6.8l-8.2 -6.8zM1286.8 1226.3l8.2 6.8l-8.2 6.8l-8.2 -6.8zM1288.4 1229.8l8.2 6.8l-8.2 6.8l-8.2 -6.8zM1290.1 1234.1l8.2 6.8l-8.2 6.8l-8.2 -6.8zM1291.7 1238.4l8.2 6.8l-8.2 6.8l-8.2 -6.8zM1293.4 1242.7l8.2 6.8l-8.2 6.8l-8.2 -6.8zM1295.1 1247.0l8.2 6.8l-8.2 6.8l-8.2 -6.8zM1296.7 1251.3l8.2 6.8l-8.2 6.8l-8.2 -6.8zM1298.4 1255.6l8.2 6.8l-8.2 6.8l-8.2 -6.8zM1298.5 1255.9l8.2 6.8l-8.2 6.8l-8.2 -6.8zM1300.0 1244.1l8.2 6.8l-8.2 6.8l-8.2 -6.8zM1301.7 1231.3l8.2 6.8l-8.2 6.8l-8.2 -6.8zM1303.3 1218.5l8.2 6.8l-8.2 6.8l-8.2 -6.8zM1305.0 1204.5l8.2 6.8l-8.2 6.8l-8.2 -6.8zM1306.7 1188.1l8.2 6.8l-8.2 6.8l-8.2 -6.8zM1308.3 1171.7l8.2 6.8l-8.2 6.8l-8.2 -6.8zM1309.1 1155.8l8.2 6.8l-8.2 6.8l-8.2 -6.8zM1310.0 1139.9l8.2 6.8l-8.2 6.8l-8.2 -6.8zM1311.6 1127.1l8.2 6.8l-8.2 6.8l-8.2 -6.8zM1313.3 1121.3l8.2 6.8l-8.2 6.8l-8.2 -6.8zM1314.9 1115.5l8.2 6.8l-8.2 6.8l-8.2 -6.8zM1316.6 1109.7l8.2 6.8l-8.2 6.8l-8.2 -6.8zM1318.3 1103.9l8.2 6.8l-8.2 6.8l-8.2 -6.8zM1318.3 1103.7l8.2 6.8l-8.2 6.8l-8.2 -6.8zM1319.9 1106.0l8.2 6.8l-8.2 6.8l-8.2 -6.8zM1321.6 1108.4l8.2 6.8l-8.2 6.8l-8.2 -6.8zM1323.2 1110.8l8.2 6.8l-8.2 6.8l-8.2 -6.8zM1324.9 1113.1l8.2 6.8l-8.2 6.8l-8.2 -6.8zM1326.5 1115.5l8.2 6.8l-8.2 6.8l-8.2 -6.8zM1328.2 1117.9l8.2 6.8l-8.2 6.8l-8.2 -6.8zM1329.9 1120.3l8.2 6.8l-8.2 6.8l-8.2 -6.8zM1331.5 1122.7l8.2 6.8l-8.2 6.8l-8.2 -6.8zM1333.2 1126.5l8.2 6.8l-8.2 6.8l-8.2 -6.8zM1334.8 1131.1l8.2 6.8l-8.2 6.8l-8.2 -6.8zM1336.5 1135.7l8.2 6.8l-8.2 6.8l-8.2 -6.8zM1338.1 1140.3l8.2 6.8l-8.2 6.8l-8.2 -6.8zM1339.8 1145.0l8.2 6.8l-8.2 6.8l-8.2 -6.8zM1341.5 1149.6l8.2 6.8l-8.2 6.8l-8.2 -6.8zM1343.1 1158.6l8.2 6.8l-8.2 6.8l-8.2 -6.8zM1344.8 1169.7l8.2 6.8l-8.2 6.8l-8.2 -6.8zM1346.4 1180.8l8.2 6.8l-8.2 6.8l-8.2 -6.8zM1348.1 1191.9l8.2 6.8l-8.2 6.8l-8.2 -6.8zM1349.7 1202.8l8.2 6.8l-8.2 6.8l-8.2 -6.8zM1351.4 1213.7l8.2 6.8l-8.2 6.8l-8.2 -6.8zM1353.1 1224.6l8.2 6.8l-8.2 6.8l-8.2 -6.8zM1354.7 1234.3l8.2 6.8l-8.2 6.8l-8.2 -6.8zM1356.4 1242.6l8.2 6.8l-8.2 6.8l-8.2 -6.8zM1358.0 1251.0l8.2 6.8l-8.2 6.8l-8.2 -6.8zM1359.7 1259.3l8.2 6.8l-8.2 6.8l-8.2 -6.8zM1359.8 1259.9l8.2 6.8l-8.2 6.8l-8.2 -6.8zM1361.3 1247.0l8.2 6.8l-8.2 6.8l-8.2 -6.8zM1363.0 1233.1l8.2 6.8l-8.2 6.8l-8.2 -6.8zM1364.7 1219.2l8.2 6.8l-8.2 6.8l-8.2 -6.8zM1365.5 1208.8l8.2 6.8l-8.2 6.8l-8.2 -6.8zM1366.3 1198.4l8.2 6.8l-8.2 6.8l-8.2 -6.8zM1367.1 1182.0l8.2 6.8l-8.2 6.8l-8.2 -6.8zM1368.0 1165.6l8.2 6.8l-8.2 6.8l-8.2 -6.8zM1368.8 1149.3l8.2 6.8l-8.2 6.8l-8.2 -6.8zM1369.6 1132.9l8.2 6.8l-8.2 6.8l-8.2 -6.8zM1370.5 1116.5l8.2 6.8l-8.2 6.8l-8.2 -6.8zM1371.3 1100.1l8.2 6.8l-8.2 6.8l-8.2 -6.8zM1372.1 1089.7l8.2 6.8l-8.2 6.8l-8.2 -6.8zM1372.9 1079.3l8.2 6.8l-8.2 6.8l-8.2 -6.8zM1374.6 1062.5l8.2 6.8l-8.2 6.8l-8.2 -6.8zM1376.3 1043.7l8.2 6.8l-8.2 6.8l-8.2 -6.8zM1377.1 1032.8l8.2 6.8l-8.2 6.8l-8.2 -6.8zM1377.9 1021.8l8.2 6.8l-8.2 6.8l-8.2 -6.8zM1378.6 1012.7l8.2 6.8l-8.2 6.8l-8.2 -6.8zM1379.6 1018.2l8.2 6.8l-8.2 6.8l-8.2 -6.8zM1381.2 1027.8l8.2 6.8l-8.2 6.8l-8.2 -6.8zM1382.9 1037.3l8.2 6.8l-8.2 6.8l-8.2 -6.8zM1384.5 1046.8l8.2 6.8l-8.2 6.8l-8.2 -6.8zM1386.2 1056.9l8.2 6.8l-8.2 6.8l-8.2 -6.8zM1387.9 1068.0l8.2 6.8l-8.2 6.8l-8.2 -6.8zM1389.5 1079.1l8.2 6.8l-8.2 6.8l-8.2 -6.8zM1391.2 1090.2l8.2 6.8l-8.2 6.8l-8.2 -6.8zM1392.8 1105.9l8.2 6.8l-8.2 6.8l-8.2 -6.8zM1394.5 1122.3l8.2 6.8l-8.2 6.8l-8.2 -6.8zM1395.3 1134.1l8.2 6.8l-8.2 6.8l-8.2 -6.8zM1396.1 1145.9l8.2 6.8l-8.2 6.8l-8.2 -6.8zM1397.0 1159.8l8.2 6.8l-8.2 6.8l-8.2 -6.8zM1397.8 1173.8l8.2 6.8l-8.2 6.8l-8.2 -6.8zM1399.3 1184.7l8.2 6.8l-8.2 6.8l-8.2 -6.8z" fill="none" stroke="#3a8ef0" stroke-width="2.4" stroke-linejoin="miter"/><polyline points="286.4,1112.0 286.4,1112.0 287.2,1094.6 288.1,1077.3 288.9,1059.9 289.7,1042.6 290.5,1025.6 291.4,1008.6 292.2,991.8 293.0,975.0 293.9,958.4 294.7,941.9 295.5,929.0 296.3,916.2 298.0,899.7 299.7,883.2 301.3,866.7 303.0,851.0 304.6,835.8 306.3,820.5 306.5,818.5 307.9,832.4 309.6,848.4 311.3,864.3 312.9,880.3 314.6,896.4 316.2,912.9 317.9,929.5 319.5,946.0 321.2,962.5 322.9,979.1 324.5,995.6 326.2,1012.1 327.8,1028.8 329.5,1045.6 331.1,1062.4 332.8,1079.2 334.5,1095.7 336.1,1112.2 337.8,1128.7 339.4,1146.2 341.1,1165.8 342.7,1185.5 344.4,1203.8 345.1,1211.0 346.1,1195.3 346.9,1181.7 347.7,1168.1 348.5,1154.4 349.4,1140.8 350.2,1127.2 351.0,1113.6 351.9,1097.5 352.7,1081.5 353.5,1065.0 354.3,1048.6 355.2,1032.0 356.0,1015.5 356.8,999.5 357.7,983.5 358.5,972.3 359.3,961.2 360.1,950.0 361.0,938.9 362.6,919.7 364.3,907.5 365.9,895.2 366.7,889.6 367.6,899.0 369.2,916.3 370.9,933.7 372.6,951.1 374.2,967.8 375.9,984.3 377.5,1000.8 379.2,1017.6 380.0,1028.8 380.8,1039.9 381.7,1051.0 382.5,1062.2 383.3,1074.3 384.2,1086.5 385.0,1101.4 385.8,1116.2 386.8,1133.8 387.5,1121.3 388.3,1106.1 389.1,1090.8 390.0,1075.6 390.8,1060.3 391.6,1049.0 392.4,1037.7 394.1,1020.9 395.8,1004.1 397.4,987.3 398.2,975.4 399.1,963.4 399.9,951.2 400.7,938.9 402.4,930.2 404.0,921.5 405.4,914.4 405.7,915.4 407.4,920.7 409.0,926.0 410.7,931.3 412.3,936.6 414.0,943.5 415.6,951.8 417.3,960.1 419.0,968.3 420.6,976.6 422.3,984.9 423.9,993.1 425.6,1001.4 427.2,1009.6 428.9,1022.6 429.7,1039.7 430.6,1056.8 431.4,1070.5 432.2,1084.3 433.9,1100.9 435.5,1117.4 437.2,1133.9 438.8,1153.7 439.7,1164.7 440.5,1175.6 441.3,1186.5 442.2,1197.4 443.0,1209.4 443.8,1221.3 444.6,1233.6 445.5,1245.8 446.3,1257.7 447.1,1269.9 447.1,1269.5 448.0,1257.2 448.8,1245.0 449.6,1232.7 450.4,1220.5 451.3,1207.2 452.1,1194.0 452.9,1177.6 453.8,1161.3 454.6,1144.9 455.4,1128.6 456.2,1108.8 457.1,1089.0 457.6,1072.5 458.2,1056.0 458.7,1039.5 459.3,1025.9 459.8,1012.3 460.4,998.8 461.2,982.2 462.0,965.7 463.7,946.6 465.4,934.5 466.0,929.8 467.0,941.6 468.7,961.0 470.3,979.5 472.0,996.2 473.6,1012.9 475.3,1029.5 477.0,1045.9 478.6,1062.3 480.3,1077.3 481.9,1089.9 483.6,1102.4 485.2,1111.6 486.9,1115.5 488.6,1119.3 490.2,1123.2 491.9,1127.1 493.5,1128.2 495.2,1129.0 496.8,1129.8 498.5,1130.7 500.2,1131.5 501.8,1132.4 503.5,1138.2 505.1,1144.3 506.8,1150.3 508.4,1156.4 510.1,1162.3 511.8,1167.8 513.4,1173.3 515.1,1178.8 516.7,1184.4 518.4,1191.0 520.0,1197.5 521.7,1204.1 523.4,1210.6 525.0,1214.9 526.7,1216.8 528.3,1218.7 530.0,1220.6 531.6,1222.5 533.3,1224.4 534.9,1226.2 536.6,1228.1 538.3,1230.0 539.9,1231.9 541.5,1233.7 541.6,1233.5 543.2,1229.4 544.9,1225.2 546.5,1221.1 548.2,1217.0 549.9,1212.8 551.5,1208.1 553.2,1195.6 554.8,1183.1 556.5,1170.6 558.1,1158.0 559.8,1145.5 561.5,1134.4 563.1,1131.1 564.8,1127.7 566.4,1124.4 568.1,1121.1 569.7,1117.8 571.4,1114.5 573.1,1111.2 574.7,1104.5 576.4,1096.2 578.0,1087.9 579.7,1079.6 581.3,1071.3 583.0,1063.0 584.7,1054.7 586.3,1046.4 588.0,1038.1 589.6,1032.0 591.3,1026.6 592.9,1021.2 594.6,1015.8 596.3,1010.4 597.9,1005.0 599.6,1001.7 601.2,998.9 602.9,996.2 604.5,993.4 605.7,991.5 606.2,994.7 607.9,1005.4 609.5,1016.0 611.2,1028.4 612.8,1045.1 614.5,1061.8 616.1,1078.4 617.8,1094.8 619.5,1111.2 621.1,1127.4 622.8,1143.3 624.4,1159.2 625.5,1169.5 626.1,1165.8 627.7,1155.3 629.4,1144.7 631.1,1134.2 632.7,1123.7 634.4,1111.6 636.0,1099.3 637.7,1087.0 639.3,1080.7 641.0,1075.2 642.7,1069.8 643.5,1067.0 644.3,1070.5 646.0,1077.7 647.6,1084.9 649.3,1092.1 650.9,1099.2 652.6,1106.4 654.3,1115.3 655.9,1125.7 657.6,1136.1 659.2,1146.5 660.9,1156.8 662.5,1167.0 662.5,1166.8 664.2,1156.4 665.9,1146.0 667.5,1135.6 669.2,1125.2 670.8,1114.8 672.5,1105.5 674.1,1097.2 675.8,1088.9 677.5,1080.6 679.1,1072.4 680.8,1064.6 682.4,1057.0 684.1,1049.4 684.5,1047.5 685.7,1059.3 687.4,1075.0 689.1,1090.7 690.7,1105.4 692.4,1119.5 694.0,1133.6 695.7,1146.1 697.3,1156.8 699.0,1167.6 700.7,1176.3 702.3,1181.0 704.0,1185.6 705.6,1190.3 706.6,1193.0 707.3,1191.8 708.9,1188.8 710.6,1185.7 712.2,1182.7 713.9,1179.7 715.6,1176.7 717.2,1173.7 718.9,1170.7 720.5,1167.7 720.9,1167.0 722.2,1167.2 723.8,1167.4 725.5,1167.7 727.2,1167.9 728.8,1168.1 730.5,1168.4 732.1,1168.6 733.8,1168.8 735.4,1169.1 737.1,1169.3 738.8,1169.6 740.4,1170.4 742.1,1171.5 743.7,1172.6 745.4,1173.6 746.2,1184.2 747.0,1194.8 747.9,1210.4 748.7,1226.0 749.5,1240.3 750.4,1254.6 751.2,1266.8 752.0,1278.9 752.8,1289.7 753.7,1300.5 755.3,1320.3 757.0,1333.2 758.6,1346.1 760.3,1358.0 762.0,1365.6 763.6,1373.2 765.1,1380.0 765.3,1378.6 766.9,1365.4 768.6,1352.1 770.2,1338.9 771.9,1325.7 773.6,1311.1 775.2,1294.5 776.9,1278.0 778.5,1261.3 780.2,1244.5 781.8,1227.6 783.5,1210.8 785.2,1194.2 786.8,1177.7 788.5,1161.3 790.1,1150.3 791.8,1139.3 793.4,1128.3 795.1,1117.2 796.8,1105.2 798.4,1091.3 800.1,1077.4 801.7,1063.5 802.7,1055.3 803.4,1064.9 804.2,1076.5 805.0,1088.1 805.9,1099.5 806.7,1110.9 808.4,1127.4 810.0,1144.0 811.7,1160.5 812.5,1172.6 813.3,1184.7 814.2,1197.1 815.0,1209.5 815.8,1221.9 816.6,1234.3 817.5,1250.0 818.3,1265.6 819.1,1283.8 820.0,1301.9 820.8,1313.5 821.0,1332.0 821.6,1325.2 823.3,1306.6 824.9,1288.0 826.6,1269.4 827.4,1258.3 828.2,1247.2 829.1,1234.6 829.9,1222.1 830.7,1209.5 831.6,1197.0 832.4,1177.1 833.2,1157.2 833.8,1141.1 834.3,1125.0 834.9,1108.9 835.4,1095.2 836.0,1081.6 836.5,1067.9 837.4,1053.0 838.2,1038.1 839.0,1027.0 839.8,1016.0 841.5,997.8 843.2,986.8 844.6,977.1 844.8,979.7 845.6,989.9 846.5,1000.2 847.3,1010.4 848.1,1020.6 849.0,1030.9 849.8,1041.2 850.6,1051.6 851.4,1062.1 852.3,1072.5 853.1,1083.0 853.9,1093.1 854.8,1103.2 856.4,1119.9 858.1,1136.6 859.7,1154.9 860.6,1167.2 861.4,1179.5 862.2,1195.2 863.0,1211.0 863.2,1214.4 864.7,1207.5 866.4,1199.9 868.0,1192.3 869.7,1184.7 871.3,1177.1 873.0,1169.0 874.6,1160.7 876.3,1152.4 877.9,1144.1 879.6,1135.8 881.3,1127.6 882.9,1119.3 884.6,1113.0 886.2,1113.0 887.9,1113.0 889.5,1113.0 891.2,1113.0 892.9,1113.0 894.5,1113.0 896.2,1113.0 897.8,1113.0 899.5,1113.0 901.1,1113.0 902.8,1099.9 904.5,1083.1 906.1,1066.4 907.8,1053.4 909.4,1041.1 911.1,1028.8 912.7,1020.7 914.4,1013.5 916.1,1006.4 917.7,999.2 919.4,992.1 920.0,989.4 921.0,997.6 922.7,1010.9 924.3,1024.1 926.0,1037.3 927.7,1053.6 929.3,1070.3 931.0,1087.0 931.8,1102.8 932.6,1118.6 933.5,1135.0 934.3,1151.4 935.1,1167.7 935.9,1184.1 936.8,1200.5 937.6,1216.9 938.4,1231.2 939.3,1245.5 940.1,1256.5 940.9,1267.6 942.3,1286.1 942.6,1282.8 943.4,1272.7 944.2,1262.6 945.1,1252.6 945.9,1242.5 946.7,1232.4 947.5,1222.3 948.4,1212.2 949.2,1202.0 950.0,1191.8 950.9,1181.5 951.7,1171.3 952.5,1161.1 954.2,1142.3 955.8,1125.6 957.5,1108.9 959.1,1093.9 960.8,1080.6 962.0,1071.0 962.5,1074.1 964.1,1085.3 965.8,1096.5 967.4,1107.8 969.1,1121.8 970.7,1138.2 972.4,1154.6 974.1,1169.0 975.7,1181.5 977.4,1194.1 979.0,1203.3 980.7,1209.8 982.3,1216.4 984.0,1220.3 985.7,1221.9 987.3,1223.6 989.0,1225.2 990.6,1226.9 992.3,1228.5 993.9,1230.2 995.6,1231.8 997.3,1233.5 998.0,1234.2 998.9,1230.7 1000.6,1224.4 1002.2,1218.1 1003.9,1211.8 1005.5,1205.4 1007.2,1198.5 1008.9,1190.2 1010.5,1181.9 1012.2,1173.6 1013.8,1165.3 1015.5,1154.8 1017.1,1143.8 1018.8,1132.8 1020.5,1121.7 1022.1,1110.6 1023.8,1099.4 1025.4,1088.7 1027.1,1081.2 1028.7,1073.8 1030.4,1066.3 1032.1,1058.9 1033.7,1054.2 1035.4,1050.9 1037.0,1047.6 1038.7,1044.3 1040.3,1041.0 1041.0,1039.7 1042.0,1041.9 1043.6,1045.5 1044.6,1047.6 1045.6,1049.8 1046.6,1052.0 1047.6,1054.2 1048.6,1056.3 1049.6,1058.5 1050.6,1060.7 1051.6,1063.6 1052.6,1067.3 1053.6,1071.1 1054.6,1074.9 1055.6,1078.6 1056.6,1082.4 1057.6,1086.1 1058.6,1090.0 1059.6,1096.8 1060.6,1103.5 1061.6,1110.3 1062.6,1117.0 1063.6,1123.8 1064.6,1130.4 1065.6,1137.1 1066.6,1143.7 1067.6,1150.3 1068.6,1156.9 1069.6,1163.6 1070.6,1170.2 1071.6,1176.8 1072.6,1183.4 1073.6,1190.1 1074.6,1196.7 1075.6,1203.6 1076.6,1211.1 1077.6,1218.6 1078.6,1226.2 1079.0,1228.8 1079.6,1223.3 1081.3,1209.3 1083.0,1195.4 1084.6,1180.1 1085.4,1163.9 1086.3,1147.8 1087.1,1130.8 1087.9,1113.8 1089.6,1094.4 1091.2,1077.7 1092.9,1061.4 1094.6,1045.2 1096.2,1030.2 1097.9,1017.8 1099.5,1005.2 1101.2,991.6 1102.1,984.1 1102.8,992.0 1104.5,1009.7 1106.2,1027.3 1107.8,1041.0 1109.5,1052.1 1111.1,1063.3 1112.8,1074.4 1114.4,1085.4 1116.1,1096.4 1117.8,1107.4 1119.4,1123.5 1121.1,1140.1 1121.6,1145.4 1122.7,1137.9 1124.4,1126.9 1126.0,1116.0 1127.7,1104.9 1129.4,1093.7 1131.0,1082.6 1132.7,1071.4 1134.3,1054.9 1136.0,1038.2 1137.6,1027.9 1139.3,1019.6 1140.1,1015.6 1141.0,1019.8 1142.6,1028.0 1144.3,1036.2 1145.9,1044.4 1147.6,1052.6 1149.2,1063.8 1150.9,1074.9 1152.6,1086.0 1154.2,1098.1 1155.9,1110.6 1157.5,1123.8 1159.2,1138.0 1159.6,1141.6 1160.8,1135.2 1162.5,1126.7 1164.2,1118.3 1165.8,1109.8 1167.5,1101.4 1169.1,1093.1 1170.8,1084.8 1172.4,1076.5 1174.1,1066.7 1175.8,1054.3 1177.4,1042.2 1179.1,1032.6 1180.7,1023.0 1181.5,1018.5 1182.4,1023.9 1184.0,1034.0 1185.7,1044.0 1187.4,1054.1 1189.0,1064.2 1190.7,1073.3 1192.3,1081.6 1194.0,1089.9 1195.6,1098.1 1197.3,1106.4 1199.0,1114.7 1200.6,1121.1 1202.3,1126.2 1203.9,1131.2 1205.6,1136.2 1207.2,1141.2 1208.9,1146.2 1210.6,1152.0 1212.2,1158.2 1213.9,1164.4 1215.5,1170.6 1217.2,1176.9 1218.8,1184.8 1220.5,1193.0 1222.2,1201.2 1223.8,1209.3 1225.5,1217.4 1227.1,1223.7 1228.8,1229.9 1230.4,1236.1 1232.1,1242.4 1233.8,1249.3 1235.4,1258.0 1237.1,1266.6 1238.2,1272.6 1238.7,1268.4 1240.4,1255.1 1242.0,1241.8 1243.7,1228.5 1245.3,1215.6 1247.0,1204.7 1248.7,1193.7 1250.3,1182.8 1252.0,1171.8 1253.6,1160.7 1255.3,1149.6 1256.9,1138.5 1258.6,1127.6 1260.3,1116.7 1260.9,1112.5 1261.9,1120.2 1263.6,1132.7 1265.2,1145.3 1266.9,1157.8 1268.5,1168.2 1270.2,1178.6 1271.9,1189.0 1273.5,1199.4 1275.2,1208.2 1276.8,1211.8 1278.5,1215.3 1280.1,1218.9 1281.8,1222.4 1283.5,1226.0 1285.1,1229.5 1286.8,1233.1 1288.4,1236.6 1290.1,1240.9 1291.7,1245.2 1293.4,1249.5 1295.1,1253.8 1296.7,1258.1 1298.4,1262.4 1298.5,1262.7 1300.0,1250.9 1301.7,1238.1 1303.3,1225.3 1305.0,1211.3 1306.7,1194.9 1308.3,1178.5 1309.1,1162.6 1310.0,1146.7 1311.6,1133.9 1313.3,1128.1 1314.9,1122.3 1316.6,1116.5 1318.3,1110.7 1318.3,1110.5 1319.9,1112.8 1321.6,1115.2 1323.2,1117.6 1324.9,1119.9 1326.5,1122.3 1328.2,1124.7 1329.9,1127.1 1331.5,1129.5 1333.2,1133.3 1334.8,1137.9 1336.5,1142.5 1338.1,1147.1 1339.8,1151.8 1341.5,1156.4 1343.1,1165.4 1344.8,1176.5 1346.4,1187.6 1348.1,1198.7 1349.7,1209.6 1351.4,1220.5 1353.1,1231.4 1354.7,1241.1 1356.4,1249.4 1358.0,1257.8 1359.7,1266.1 1359.8,1266.7 1361.3,1253.8 1363.0,1239.9 1364.7,1226.0 1365.5,1215.6 1366.3,1205.2 1367.1,1188.8 1368.0,1172.4 1368.8,1156.1 1369.6,1139.7 1370.5,1123.3 1371.3,1106.9 1372.1,1096.5 1372.9,1086.1 1374.6,1069.3 1376.3,1050.5 1377.1,1039.6 1377.9,1028.6 1378.6,1019.5 1379.6,1025.0 1381.2,1034.6 1382.9,1044.1 1384.5,1053.6 1386.2,1063.7 1387.9,1074.8 1389.5,1085.9 1391.2,1097.0 1392.8,1112.7 1394.5,1129.1 1395.3,1140.9 1396.1,1152.7 1397.0,1166.6 1397.8,1180.6 1399.3,1191.5" fill="none" stroke="#3a8ef0" stroke-width="2.3" stroke-linejoin="round"/><line x1="274" y1="1071.1" x2="1415" y2="1187.0" stroke="#ff4040" stroke-width="3.0" stroke-dasharray="24 7"/><line x1="274" y1="1101.7" x2="1415" y2="1165.0" stroke="#ff4040" stroke-width="3.0" stroke-dasharray="24 7"/><line x1="274" y1="1087.4" x2="1415" y2="1173.2" stroke="#ff0000" stroke-width="7"/></g><rect x="274" y="58.4" width="1134.5" height="639.6" fill="none" stroke="#3c3c3c" stroke-width="3.2"/><line x1="251.6" y1="67.5" x2="274" y2="67.5" stroke="#3c3c3c" stroke-width="3.2"/><line x1="1408.5" y1="67.5" x2="1431" y2="67.5" stroke="#3c3c3c" stroke-width="3.2"/><line x1="251.6" y1="207" x2="274" y2="207" stroke="#3c3c3c" stroke-width="3.2"/><line x1="1408.5" y1="207" x2="1431" y2="207" stroke="#3c3c3c" stroke-width="3.2"/><line x1="251.6" y1="349" x2="274" y2="349" stroke="#3c3c3c" stroke-width="3.2"/><line x1="1408.5" y1="349" x2="1431" y2="349" stroke="#3c3c3c" stroke-width="3.2"/><line x1="251.6" y1="489" x2="274" y2="489" stroke="#3c3c3c" stroke-width="3.2"/><line x1="1408.5" y1="489" x2="1431" y2="489" stroke="#3c3c3c" stroke-width="3.2"/><line x1="251.6" y1="628.7" x2="274" y2="628.7" stroke="#3c3c3c" stroke-width="3.2"/><line x1="1408.5" y1="628.7" x2="1431" y2="628.7" stroke="#3c3c3c" stroke-width="3.2"/><line x1="478.3" y1="36.5" x2="478.3" y2="58.4" stroke="#3c3c3c" stroke-width="3.2"/><line x1="478.3" y1="698" x2="478.3" y2="718" stroke="#3c3c3c" stroke-width="3.2"/><line x1="675.1" y1="36.5" x2="675.1" y2="58.4" stroke="#3c3c3c" stroke-width="3.2"/><line x1="675.1" y1="698" x2="675.1" y2="718" stroke="#3c3c3c" stroke-width="3.2"/><line x1="871.9" y1="36.5" x2="871.9" y2="58.4" stroke="#3c3c3c" stroke-width="3.2"/><line x1="871.9" y1="698" x2="871.9" y2="718" stroke="#3c3c3c" stroke-width="3.2"/><line x1="1068.7" y1="36.5" x2="1068.7" y2="58.4" stroke="#3c3c3c" stroke-width="3.2"/><line x1="1068.7" y1="698" x2="1068.7" y2="718" stroke="#3c3c3c" stroke-width="3.2"/><line x1="1265.5" y1="36.5" x2="1265.5" y2="58.4" stroke="#3c3c3c" stroke-width="3.2"/><line x1="1265.5" y1="698" x2="1265.5" y2="718" stroke="#3c3c3c" stroke-width="3.2"/><rect x="274.2" y="781" width="1140.4" height="637.7" fill="none" stroke="#3c3c3c" stroke-width="3.2"/><line x1="249.3" y1="798.8" x2="274.2" y2="798.8" stroke="#3c3c3c" stroke-width="3.2"/><line x1="1414.6" y1="798.8" x2="1438.6" y2="798.8" stroke="#3c3c3c" stroke-width="3.2"/><line x1="249.3" y1="893" x2="274.2" y2="893" stroke="#3c3c3c" stroke-width="3.2"/><line x1="1414.6" y1="893" x2="1438.6" y2="893" stroke="#3c3c3c" stroke-width="3.2"/><line x1="249.3" y1="987.1" x2="274.2" y2="987.1" stroke="#3c3c3c" stroke-width="3.2"/><line x1="1414.6" y1="987.1" x2="1438.6" y2="987.1" stroke="#3c3c3c" stroke-width="3.2"/><line x1="249.3" y1="1081.3" x2="274.2" y2="1081.3" stroke="#3c3c3c" stroke-width="3.2"/><line x1="1414.6" y1="1081.3" x2="1438.6" y2="1081.3" stroke="#3c3c3c" stroke-width="3.2"/><line x1="249.3" y1="1175.5" x2="274.2" y2="1175.5" stroke="#3c3c3c" stroke-width="3.2"/><line x1="1414.6" y1="1175.5" x2="1438.6" y2="1175.5" stroke="#3c3c3c" stroke-width="3.2"/><line x1="249.3" y1="1269.7" x2="274.2" y2="1269.7" stroke="#3c3c3c" stroke-width="3.2"/><line x1="1414.6" y1="1269.7" x2="1438.6" y2="1269.7" stroke="#3c3c3c" stroke-width="3.2"/><line x1="249.3" y1="1363.8" x2="274.2" y2="1363.8" stroke="#3c3c3c" stroke-width="3.2"/><line x1="1414.6" y1="1363.8" x2="1438.6" y2="1363.8" stroke="#3c3c3c" stroke-width="3.2"/><line x1="477.1" y1="759.5" x2="477.1" y2="781" stroke="#3c3c3c" stroke-width="3.2"/><line x1="477.1" y1="1418.7" x2="477.1" y2="1440.6" stroke="#3c3c3c" stroke-width="3.2"/><line x1="676" y1="759.5" x2="676" y2="781" stroke="#3c3c3c" stroke-width="3.2"/><line x1="676" y1="1418.7" x2="676" y2="1440.6" stroke="#3c3c3c" stroke-width="3.2"/><line x1="874.8" y1="759.5" x2="874.8" y2="781" stroke="#3c3c3c" stroke-width="3.2"/><line x1="874.8" y1="1418.7" x2="874.8" y2="1440.6" stroke="#3c3c3c" stroke-width="3.2"/><line x1="1073.7" y1="759.5" x2="1073.7" y2="781" stroke="#3c3c3c" stroke-width="3.2"/><line x1="1073.7" y1="1418.7" x2="1073.7" y2="1440.6" stroke="#3c3c3c" stroke-width="3.2"/><line x1="1272.5" y1="759.5" x2="1272.5" y2="781" stroke="#3c3c3c" stroke-width="3.2"/><line x1="1272.5" y1="1418.7" x2="1272.5" y2="1440.6" stroke="#3c3c3c" stroke-width="3.2"/><text transform="translate(184.8,227.0) scale(0.826,1.000)" font-family="Liberation Sans, sans-serif" font-size="45.51" font-weight="normal" fill="#333333" text-anchor="start">35</text><text transform="translate(184.5,366.8) scale(0.846,1.000)" font-family="Liberation Sans, sans-serif" font-size="44.52" font-weight="normal" fill="#333333" text-anchor="start">30</text><text transform="translate(183.5,506.0) scale(0.873,1.000)" font-family="Liberation Sans, sans-serif" font-size="43.82" font-weight="normal" fill="#333333" text-anchor="start">25</text><text transform="translate(183.5,648.1) scale(0.873,1.000)" font-family="Liberation Sans, sans-serif" font-size="43.67" font-weight="normal" fill="#333333" text-anchor="start">20</text><text transform="translate(135.9,815.7) scale(0.905,1.000)" font-family="Liberation Sans, sans-serif" font-size="43.53" font-weight="normal" fill="#2c2c3a" stroke="#2c2c3a" stroke-width="0.7" text-anchor="start">5500</text><text transform="translate(135.9,909.8) scale(0.905,1.000)" font-family="Liberation Sans, sans-serif" font-size="43.53" font-weight="normal" fill="#2c2c3a" stroke="#2c2c3a" stroke-width="0.7" text-anchor="start">5000</text><text transform="translate(135.9,1004.0) scale(0.905,1.000)" font-family="Liberation Sans, sans-serif" font-size="43.53" font-weight="normal" fill="#2c2c3a" stroke="#2c2c3a" stroke-width="0.7" text-anchor="start">4500</text><text transform="translate(135.9,1098.2) scale(0.905,1.000)" font-family="Liberation Sans, sans-serif" font-size="43.53" font-weight="normal" fill="#2c2c3a" stroke="#2c2c3a" stroke-width="0.7" text-anchor="start">4000</text><text transform="translate(135.9,1192.3) scale(0.905,1.000)" font-family="Liberation Sans, sans-serif" font-size="43.53" font-weight="normal" fill="#2c2c3a" stroke="#2c2c3a" stroke-width="0.7" text-anchor="start">3500</text><text transform="translate(135.9,1286.5) scale(0.905,1.000)" font-family="Liberation Sans, sans-serif" font-size="43.53" font-weight="normal" fill="#2c2c3a" stroke="#2c2c3a" stroke-width="0.7" text-anchor="start">3000</text><text transform="translate(135.9,1380.7) scale(0.905,1.000)" font-family="Liberation Sans, sans-serif" font-size="43.53" font-weight="normal" fill="#2c2c3a" stroke="#2c2c3a" stroke-width="0.7" text-anchor="start">2500</text><text transform="translate(431.2,1498.5) scale(0.921,1.000)" font-family="Liberation Sans, sans-serif" font-size="43.25" font-weight="normal" fill="#2c2c3a" stroke="#2c2c3a" stroke-width="0.7" text-anchor="start">1970</text><text transform="translate(631.6,1498.5) scale(0.921,1.000)" font-family="Liberation Sans, sans-serif" font-size="43.25" font-weight="normal" fill="#2c2c3a" stroke="#2c2c3a" stroke-width="0.7" text-anchor="start">1980</text><text transform="translate(829.0,1498.5) scale(0.921,1.000)" font-family="Liberation Sans, sans-serif" font-size="43.25" font-weight="normal" fill="#2c2c3a" stroke="#2c2c3a" stroke-width="0.7" text-anchor="start">1990</text><text transform="translate(1028.7,1498.5) scale(0.921,1.000)" font-family="Liberation Sans, sans-serif" font-size="43.25" font-weight="normal" fill="#2c2c3a" stroke="#2c2c3a" stroke-width="0.7" text-anchor="start">2000</text><text transform="translate(1225.3,1498.5) scale(0.921,1.000)" font-family="Liberation Sans, sans-serif" font-size="43.25" font-weight="normal" fill="#2c2c3a" stroke="#2c2c3a" stroke-width="0.7" text-anchor="start">2010</text><text transform="translate(785.8,1582.5) scale(1.016,1.000)" font-family="Liberation Sans, sans-serif" font-size="50.9" font-weight="normal" fill="#222222" text-anchor="start">Year</text><text transform="translate(130.2,566.6) rotate(-90) scale(0.872,1.000)" font-family="Liberation Sans, sans-serif" font-size="55.85" font-weight="normal" fill="#333333" text-anchor="start">Temperature (°C)</text><text transform="translate(77.9,1244.0) rotate(-90) scale(0.888,1.000)" font-family="Liberation Sans, sans-serif" font-size="54.84" font-weight="normal" fill="#222222" text-anchor="start">Rainfall (mm)</text><text transform="translate(364.0,190.8) scale(0.938,1.000)" font-family="Liberation Sans, sans-serif" font-size="51.47" font-weight="bold" fill="#000000" text-anchor="start">(a)</text><text transform="translate(409.9,881.6) scale(0.963,1.000)" font-family="Liberation Sans, sans-serif" font-size="52.23" font-weight="bold" fill="#000000" text-anchor="start">(b)</text><text transform="translate(576.5,99.1) scale(0.865,1.000)" font-family="Liberation Sans, sans-serif" font-size="42.69" font-weight="bold" fill="#00793a" text-anchor="start">0.21</text><text transform="translate(664.8,99.1) scale(0.938,1.000)" font-family="Liberation Sans, sans-serif" font-size="42.69" font-weight="bold" fill="#00793a" text-anchor="start">[0.2,</text><text transform="translate(756.5,99.1) scale(0.898,1.000)" font-family="Liberation Sans, sans-serif" font-size="42.69" font-weight="bold" fill="#00793a" text-anchor="start">0.23]</text><text transform="translate(857.0,99.1) scale(0.930,1.000)" font-family="Liberation Sans, sans-serif" font-size="42.69" font-weight="bold" fill="#00793a" text-anchor="start">units/year</text><text transform="translate(539.9,821.1) scale(0.963,1.000)" font-family="Liberation Sans, sans-serif" font-size="41.41" font-weight="bold" fill="#00793a" text-anchor="start">-8.14</text><text transform="translate(643.8,821.1) scale(0.999,1.000)" font-family="Liberation Sans, sans-serif" font-size="41.41" font-weight="bold" fill="#00793a" text-anchor="start">[-10.5,</text><text transform="translate(775.2,821.1) scale(0.935,1.000)" font-family="Liberation Sans, sans-serif" font-size="41.41" font-weight="bold" fill="#00793a" text-anchor="start">-6.03]</text><text transform="translate(892.4,821.1) scale(1.004,1.000)" font-family="Liberation Sans, sans-serif" font-size="41.41" font-weight="bold" fill="#00793a" text-anchor="start">units/year</text><text transform="translate(1058.9,90.1)" font-family="Liberation Sans, sans-serif" font-size="29" font-weight="bold" fill="#00793a" text-anchor="start">*</text><text transform="translate(1074.3,90.1)" font-family="Liberation Sans, sans-serif" font-size="29" font-weight="bold" fill="#00793a" text-anchor="start">*</text><text transform="translate(1089.0,90.1)" font-family="Liberation Sans, sans-serif" font-size="29" font-weight="bold" fill="#00793a" text-anchor="start">*</text><text transform="translate(1103.9,812.9)" font-family="Liberation Sans, sans-serif" font-size="29" font-weight="bold" fill="#00793a" text-anchor="start">*</text><text transform="translate(1119.8,812.9)" font-family="Liberation Sans, sans-serif" font-size="29" font-weight="bold" fill="#00793a" text-anchor="start">*</text><text transform="translate(1135.6,812.9)" font-family="Liberation Sans, sans-serif" font-size="29" font-weight="bold" fill="#00793a" text-anchor="start">*</text><line x1="1034.5" y1="40.5" x2="1034.5" y2="1418" stroke="#ffc000" stroke-width="4.5" stroke-dasharray="14 10"/></svg></body></html>
